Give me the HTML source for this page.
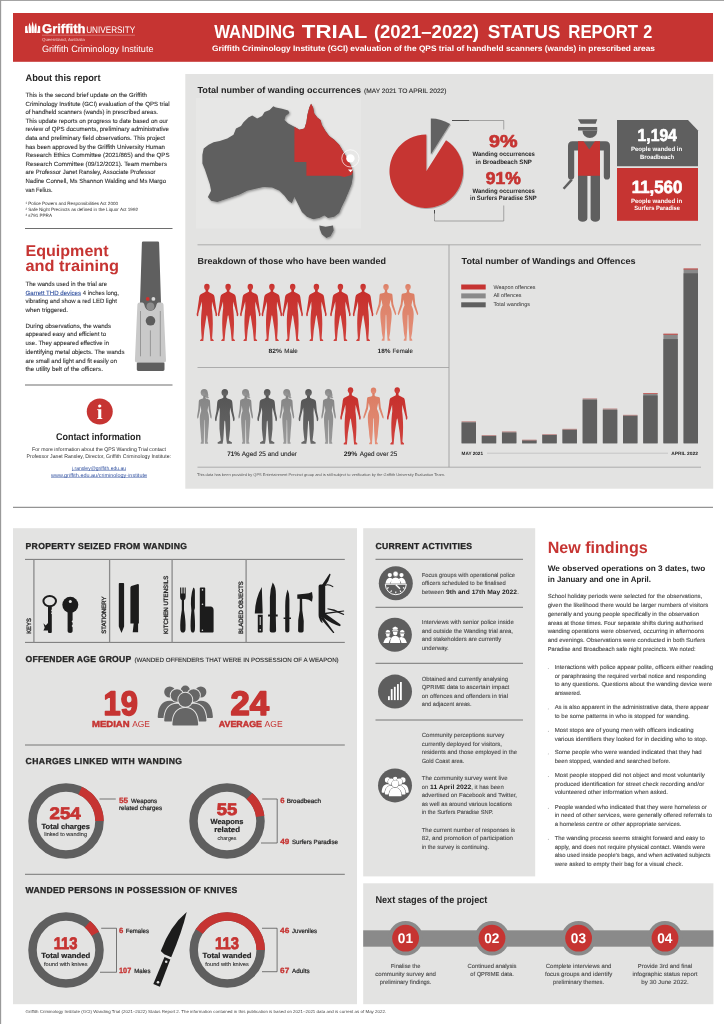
<!DOCTYPE html>
<html lang="en"><head><meta charset="utf-8"><title>Wanding Trial (2021–2022) Status Report 2</title>
<style>
html,body{margin:0;padding:0;background:#fff;}
body{width:724px;height:1024px;overflow:hidden;}
svg{display:block;font-family:"Liberation Sans",sans-serif;text-rendering:geometricPrecision;}
</style></head><body>
<svg width="724" height="1024" viewBox="0 0 724 1024" fill="#303030">
<defs>
<filter id="sh" x="-10%" y="-10%" width="125%" height="125%"><feDropShadow dx="1" dy="1.2" stdDeviation="1.1" flood-color="#000" flood-opacity="0.38"/></filter>
<filter id="sh2" x="-10%" y="-10%" width="125%" height="125%"><feDropShadow dx="0.8" dy="0.8" stdDeviation="0.7" flood-color="#000" flood-opacity="0.3"/></filter>
<linearGradient id="gm" x1="0" y1="0" x2="0" y2="1"><stop offset="0" stop-color="#c62f2c"/><stop offset="1" stop-color="#d0423d"/></linearGradient>
<linearGradient id="gf" x1="0" y1="0" x2="0" y2="1"><stop offset="0" stop-color="#db7d63"/><stop offset="1" stop-color="#e4907a"/></linearGradient>
<linearGradient id="gy" x1="0" y1="0" x2="0" y2="1"><stop offset="0" stop-color="#858585"/><stop offset="1" stop-color="#9a9a9a"/></linearGradient>
<linearGradient id="gd" x1="0" y1="0" x2="0" y2="1"><stop offset="0" stop-color="#555555"/><stop offset="1" stop-color="#696969"/></linearGradient>
</defs>
<rect x="0.00" y="0.00" width="724.00" height="0.90" fill="#9a9a9a" />
<rect x="0.00" y="0.00" width="1.15" height="1024.00" fill="#9a9a9a" />
<rect x="13.00" y="13.00" width="700.00" height="48.80" fill="#c63432" />
<g fill="#fff"><path d="M25.10,26.30 L27.20,25.70 L27.50,30.00 L28.30,32.90 L25.10,32.90Z"/><path d="M40.20,26.30 L38.10,25.70 L37.80,30.00 L37.00,32.90 L40.20,32.90Z"/><path d="M28.70,32.9 Q27.90,27 29.30,22.70 Q31.80,27 31.00,32.9Z"/><path d="M34.30,32.9 Q33.50,27 36.00,22.70 Q37.40,27 36.60,32.9Z"/><path d="M31.50,32.9 Q30.80,27 32.65,21.30 Q34.50,27 33.80,32.9Z"/></g>
<text x="42.00" y="33.00" font-size="12.6" font-weight="700" fill="#fff" textLength="43.50" lengthAdjust="spacingAndGlyphs" stroke="#fff" stroke-width="0.35">Griffith</text>
<text x="86.20" y="33.00" font-size="9.6" fill="#fff" textLength="49.00" lengthAdjust="spacingAndGlyphs">UNIVERSITY</text>
<line x1="42.00" y1="35.20" x2="135.00" y2="35.20" stroke="#e9a9a7" stroke-width="0.5" />
<text x="42.00" y="40.60" font-size="4.3" fill="#f3cfce" textLength="43.00" lengthAdjust="spacingAndGlyphs">Queensland, Australia</text>
<text x="42.00" y="51.60" font-size="9.2" fill="#fff" textLength="111.50" lengthAdjust="spacingAndGlyphs">Griffith Criminology Institute</text>
<text y="38.10" font-size="18.8" font-weight="700" fill="#fff"><tspan x="214.20" textLength="80.90" lengthAdjust="spacingAndGlyphs">WANDING</tspan> <tspan x="301.80" textLength="65.20" lengthAdjust="spacingAndGlyphs">TRIAL</tspan> <tspan x="373.90" textLength="105.10" lengthAdjust="spacingAndGlyphs">(2021–2022)</tspan> <tspan x="487.70" textLength="72.80" lengthAdjust="spacingAndGlyphs">STATUS</tspan> <tspan x="568.30" textLength="69.70" lengthAdjust="spacingAndGlyphs">REPORT</tspan> <tspan x="643.20" textLength="9.00" lengthAdjust="spacingAndGlyphs">2</tspan></text>
<text x="212.00" y="51.30" font-size="7.9" font-weight="700" fill="#fff" textLength="443.00" lengthAdjust="spacingAndGlyphs">Griffith Criminology Institute (GCI) evaluation of the QPS trial of handheld scanners (wands) in prescribed areas</text>
<text x="25.50" y="81.00" font-size="9.6" font-weight="700" fill="#262626" textLength="75.00" lengthAdjust="spacingAndGlyphs">About this report</text>
<text x="25.50" y="97.00" font-size="6.1" textLength="121.50" lengthAdjust="spacingAndGlyphs" stroke="#303030" stroke-width="0.1">This is the second brief update on the Griffith</text>
<text x="25.50" y="105.60" font-size="6.1" textLength="144.00" lengthAdjust="spacingAndGlyphs" stroke="#303030" stroke-width="0.1">Criminology Institute (GCI) evaluation of the QPS trial</text>
<text x="25.50" y="114.20" font-size="6.1" textLength="132.50" lengthAdjust="spacingAndGlyphs" stroke="#303030" stroke-width="0.1">of handheld scanners (wands) in prescribed areas.</text>
<text x="25.50" y="122.80" font-size="6.1" textLength="142.50" lengthAdjust="spacingAndGlyphs" stroke="#303030" stroke-width="0.1">This update reports on progress to date based on our</text>
<text x="25.50" y="131.40" font-size="6.1" textLength="143.50" lengthAdjust="spacingAndGlyphs" stroke="#303030" stroke-width="0.1">review of QPS documents, preliminary administrative</text>
<text x="25.50" y="140.00" font-size="6.1" textLength="139.50" lengthAdjust="spacingAndGlyphs" stroke="#303030" stroke-width="0.1">data and preliminary field observations. This project</text>
<text x="25.50" y="148.60" font-size="6.1" textLength="139.50" lengthAdjust="spacingAndGlyphs" stroke="#303030" stroke-width="0.1">has been approved by the Griffith University Human</text>
<text x="25.50" y="157.20" font-size="6.1" textLength="144.00" lengthAdjust="spacingAndGlyphs" stroke="#303030" stroke-width="0.1">Research Ethics Committee (2021/865) and the QPS</text>
<text x="25.50" y="165.80" font-size="6.1" textLength="141.50" lengthAdjust="spacingAndGlyphs" stroke="#303030" stroke-width="0.1">Research Committee (09/12/2021). Team members</text>
<text x="25.50" y="174.40" font-size="6.1" textLength="130.00" lengthAdjust="spacingAndGlyphs" stroke="#303030" stroke-width="0.1">are Professor Janet Ransley, Associate Professor</text>
<text x="25.50" y="183.00" font-size="6.1" textLength="140.50" lengthAdjust="spacingAndGlyphs" stroke="#303030" stroke-width="0.1">Nadine Connell, Ms Shannon Walding and Ms Margo</text>
<text x="25.50" y="191.60" font-size="6.1" textLength="27.00" lengthAdjust="spacingAndGlyphs" stroke="#303030" stroke-width="0.1">van Felius.</text>
<text x="25.50" y="204.50" font-size="4.6" textLength="92.50" lengthAdjust="spacingAndGlyphs">¹ Police Powers and Responsibilities Act 2000</text>
<text x="25.50" y="210.75" font-size="4.6" textLength="112.50" lengthAdjust="spacingAndGlyphs">² Safe Night Precincts as defined in the Liquor Act 1992</text>
<text x="25.50" y="217.00" font-size="4.6" textLength="26.50" lengthAdjust="spacingAndGlyphs">³ s791 PPRA</text>
<line x1="25.00" y1="228.50" x2="172.50" y2="228.50" stroke="#666666" stroke-width="0.95" />
<text x="25.50" y="255.50" font-size="15.6" font-weight="700" fill="#c63432" textLength="83.00" lengthAdjust="spacingAndGlyphs">Equipment</text>
<text x="25.50" y="270.50" font-size="15.6" font-weight="700" fill="#c63432" textLength="93.50" lengthAdjust="spacingAndGlyphs">and training</text>
<text x="25.50" y="285.50" font-size="6.1" textLength="81.50" lengthAdjust="spacingAndGlyphs" stroke="#303030" stroke-width="0.1">The wands used in the trial are</text>
<text x="25.50" y="303.00" font-size="6.1" textLength="91.50" lengthAdjust="spacingAndGlyphs" stroke="#303030" stroke-width="0.1">vibrating and show a red LED light</text>
<text x="25.50" y="311.75" font-size="6.1" textLength="42.50" lengthAdjust="spacingAndGlyphs" stroke="#303030" stroke-width="0.1">when triggered.</text>
<text x="25.50" y="327.50" font-size="6.1" textLength="85.50" lengthAdjust="spacingAndGlyphs" stroke="#303030" stroke-width="0.1">During observations, the wands</text>
<text x="25.50" y="336.00" font-size="6.1" textLength="80.50" lengthAdjust="spacingAndGlyphs" stroke="#303030" stroke-width="0.1">appeared easy and efficient to</text>
<text x="25.50" y="345.00" font-size="6.1" textLength="83.50" lengthAdjust="spacingAndGlyphs" stroke="#303030" stroke-width="0.1">use. They appeared effective in</text>
<text x="25.50" y="353.75" font-size="6.1" textLength="99.00" lengthAdjust="spacingAndGlyphs" stroke="#303030" stroke-width="0.1">identifying metal objects. The wands</text>
<text x="25.50" y="362.50" font-size="6.1" textLength="91.50" lengthAdjust="spacingAndGlyphs" stroke="#303030" stroke-width="0.1">are small and light and fit easily on</text>
<text x="25.50" y="371.00" font-size="6.1" textLength="77.50" lengthAdjust="spacingAndGlyphs" stroke="#303030" stroke-width="0.1">the utility belt of the officers.</text>
<text x="25.50" y="294.50" font-size="6.1" fill="#2f4f9f" textLength="55.50" lengthAdjust="spacingAndGlyphs" stroke="#2f4f9f" stroke-width="0.1">Garrett THD devices</text>
<line x1="25.50" y1="295.50" x2="81.00" y2="295.50" stroke="#2f4f9f" stroke-width="0.45" />
<text x="82.80" y="294.50" font-size="6.1" textLength="36.20" lengthAdjust="spacingAndGlyphs" stroke="#303030" stroke-width="0.1">4 inches long,</text>
<path d="M143.2,241.4 h14.6 q1.3,0 1.3,1.3 L161,302.6 q0,0.6 -0.6,0.6 h-19.8 q-0.6,0 -0.6,-0.6 L141.9,242.7 q0,-1.3 1.3,-1.3z" fill="#5f5f5f" />
<path d="M142,300 h17 v3 a8.5,8.2 0 0 1 -17,0z" fill="#5f5f5f" />
<path d="M139.6,302.4 h2.6 q1.6,0 2,1.8 q1.2,6.6 6.2,6.6 q5,0 6.2,-6.6 q0.4,-1.8 2,-1.8 h2.6 q2,0 2.3,2 L166,360.6 q0.1,2 -2,2 h-27.2 q-2,0 -1.9,-2 L137.4,304.4 q0.2,-2 2.2,-2z" fill="#c9c9c9" />
<path d="M137.8,362.6 h25.7 q1,0 1,1 v6 q0,1.4 -1.4,1.4 h-24.9 q-1.400,0 -1.400,-1.400 v-6 q0,-1 1,-1z" fill="#5f5f5f" />
<circle cx="147.70" cy="298.90" r="1.90" fill="#d2302d" />
<circle cx="153.40" cy="298.90" r="1.90" fill="#d9d9d9" />
<circle cx="150.40" cy="306.50" r="3.90" fill="#8c8c8c" />
<circle cx="150.50" cy="320.80" r="4.80" fill="#5c5c5c" />
<line x1="140.50" y1="311.00" x2="140.50" y2="356.30" stroke="#8a8a8a" stroke-width="0.8" />
<line x1="160.30" y1="311.00" x2="160.30" y2="356.30" stroke="#8a8a8a" stroke-width="0.8" />
<line x1="150.40" y1="330.40" x2="150.40" y2="356.30" stroke="#8a8a8a" stroke-width="0.8" />
<line x1="25.00" y1="385.00" x2="172.50" y2="385.00" stroke="#666666" stroke-width="0.95" />
<circle cx="99.75" cy="411.50" r="13.00" fill="#c63432" />
<text x="99.75" y="419.2" font-size="21" font-weight="700" fill="#fff" text-anchor="middle" font-family="'Liberation Serif',serif">i</text>
<text x="56.00" y="440.00" font-size="9.8" font-weight="700" fill="#262626" textLength="85.00" lengthAdjust="spacingAndGlyphs">Contact information</text>
<text x="32.00" y="451.20" font-size="5.3" textLength="134.00" lengthAdjust="spacingAndGlyphs">For more information about the QPS Wanding Trial contact</text>
<text x="26.50" y="458.10" font-size="5.3" textLength="144.50" lengthAdjust="spacingAndGlyphs">Professor Janet Ransley, Director, Griffith Criminology Institute:</text>
<text x="72.00" y="469.60" font-size="5.3" fill="#2f4f9f" textLength="54.00" lengthAdjust="spacingAndGlyphs">j.ransley@griffith.edu.au</text>
<line x1="72.00" y1="470.50" x2="126.00" y2="470.50" stroke="#2f4f9f" stroke-width="0.45" />
<text x="51.00" y="476.60" font-size="5.3" fill="#2f4f9f" textLength="96.00" lengthAdjust="spacingAndGlyphs">www.griffith.edu.au/criminology-institute</text>
<line x1="51.00" y1="477.50" x2="147.00" y2="477.50" stroke="#2f4f9f" stroke-width="0.45" />
<rect x="185.30" y="74.00" width="527.90" height="414.70" fill="#e3e3e2" />
<text x="197.50" y="93.00" font-size="8.9" font-weight="700" fill="#262626" textLength="163.50" lengthAdjust="spacingAndGlyphs">Total number of wanding occurrences</text>
<text x="364.00" y="93.20" font-size="6.5" fill="#262626" textLength="82.50" lengthAdjust="spacingAndGlyphs" stroke="#262626" stroke-width="0.1">(MAY 2021 TO APRIL 2022)</text>
<rect x="196.00" y="97.80" width="165.00" height="130.70" fill="#e7e7e6" />
<g filter="url(#sh)">
<path d="M202.4,154.7 L203.7,148.5 L208.6,144.7 L213.6,142.2 L219.8,141.0 L227.3,138.5 L233.5,134.8 L236.0,128.6 L241.0,126.1 L243.5,122.3 L248.4,117.4 L252.2,115.4 L257.1,118.6 L262.1,116.1 L264.6,111.9 L269.6,109.9 L273.3,106.2 L275.8,107.4 L282.0,108.7 L288.2,110.4 L289.5,112.9 L285.7,116.1 L284.5,119.9 L288.2,123.6 L294.4,126.8 L299.4,129.8 L304.4,128.6 L306.4,122.3 L307.4,114.9 L309.3,107.4 L311.1,103.7 L313.1,107.4 L314.3,113.6 L317.3,117.4 L320.5,119.9 L321.8,124.8 L325.5,131.1 L329.2,136.0 L334.2,139.8 L339.2,144.7 L342.9,150.9 L347.9,159.6 L351.6,167.1 L352.9,172.1 L352.9,177.0 L351.6,184.5 L349.1,190.7 L345.4,199.4 L341.7,206.9 L339.2,213.1 L334.2,216.8 L328.0,218.1 L324.3,215.6 L319.3,218.1 L313.1,219.3 L306.9,216.8 L301.9,211.9 L299.4,206.9 L296.9,201.9 L294.4,196.9 L291.9,203.2 L288.2,200.7 L284.5,195.7 L279.5,190.7 L272.0,187.5 L263.3,187.0 L254.6,189.0 L247.2,190.7 L239.7,194.5 L232.3,196.9 L224.8,199.4 L217.3,201.9 L211.1,200.7 L207.9,196.9 L211.1,190.7 L209.9,184.5 L207.4,177.0 L204.9,169.6 L202.4,163.4Z" fill="#5e5e5e" />
<path d="M319.3,225.5 L325.5,226.8 L333.0,225.5 L333.7,230.5 L330.5,236.2 L326.3,238.0 L321.8,234.2 L319.8,229.3Z" fill="#5e5e5e" />
</g>
<path d="M294.4,126.8 L299.4,129.8 L304.4,128.6 L306.4,122.3 L307.4,114.9 L309.3,107.4 L311.1,103.7 L313.1,107.4 L314.3,113.6 L317.3,117.4 L320.5,119.9 L321.8,124.8 L325.5,131.1 L329.2,136.0 L334.2,139.8 L339.2,144.7 L342.9,150.9 L347.9,159.6 L351.6,167.1 L352.9,172.1 L351.6,175.1 L344.2,177.0 L339.2,175.8 L306.4,175.8 L306.4,162.1 L294.4,162.1Z" fill="#c63432" />
<circle cx="350.40" cy="158.40" r="8.60" fill="none" stroke="#fff" stroke-width="0.7"/>
<circle cx="350.40" cy="158.40" r="4.20" fill="#fff" />
<path d="M348,169.600 h5 l-2.5,2.6z" fill="#fff" />
<line x1="197.50" y1="244.80" x2="701.00" y2="244.80" stroke="#9e9e9e" stroke-width="0.8" />
<g filter="url(#sh2)">
<path d="M426.3,171.2 L446.02,140.13 A36.8,36.8 0 1 1 426.30,134.40 Z" fill="#c63432" />
<path d="M430.8,154.5 L430.80,118.50 A36,36 0 0 1 450.09,124.10 Z" fill="#626262" />
</g>
<path d="M452,120.5 H503.75 V129.5" fill="none" stroke="#777" stroke-width="0.6"/>
<line x1="452.00" y1="120.50" x2="469.00" y2="120.50" stroke="#444" stroke-width="0.9" />
<path d="M434.5,210 V221 H503.75 V205.5" fill="none" stroke="#777" stroke-width="0.6"/>
<line x1="434.50" y1="210.00" x2="434.50" y2="213.50" stroke="#333" stroke-width="0.8" />
<text x="503.30" y="147.25" font-size="17.2" font-weight="700" fill="#c63432" text-anchor="middle" textLength="28.50" lengthAdjust="spacingAndGlyphs" stroke="#c63432" stroke-width="0.7" stroke-linejoin="round">9%</text>
<text x="503.70" y="156.00" font-size="6.3" font-weight="700" fill="#262626" text-anchor="middle" textLength="62.50" lengthAdjust="spacingAndGlyphs">Wanding occurrences</text>
<text x="503.70" y="163.60" font-size="6.3" font-weight="700" fill="#262626" text-anchor="middle" textLength="56.20" lengthAdjust="spacingAndGlyphs">in Broadbeach SNP</text>
<text x="503.30" y="183.50" font-size="17.2" font-weight="700" fill="#c63432" text-anchor="middle" textLength="35.00" lengthAdjust="spacingAndGlyphs" stroke="#c63432" stroke-width="0.7" stroke-linejoin="round">91%</text>
<text x="503.70" y="192.50" font-size="6.3" font-weight="700" fill="#262626" text-anchor="middle" textLength="62.50" lengthAdjust="spacingAndGlyphs">Wanding occurrences</text>
<text x="503.30" y="200.00" font-size="6.3" font-weight="700" fill="#262626" text-anchor="middle" textLength="66.50" lengthAdjust="spacingAndGlyphs">in Surfers Paradise SNP</text>
<path d="M578,119.25 h19.25 l-1.6,4.5 h-15z" fill="#5f5f5f" />
<path d="M578,127 h19.2 v3.5 h-19.2z" fill="#5f5f5f" />
<path d="M582.5,130.4 h14.7 v0.6 a7.35,7 0 0 1 -14.7,0z" fill="#5f5f5f" />
<path d="M572.5,141.2 h33 q4.5,0 4.5,4.500 v30.700 a3.1,3.1 0 0 1 -6.200,0 v-26 h-3.800 v67.800 a4.700,3.600 0 0 1 -9.400,0 v-42.500 h-3.200 v42.500 a4.700,3.600 0 0 1 -9.400,0 v-67.800 h-3.800 v26 a3.100,3.100 0 0 1 -6.200,0 v-30.700 q0,-4.500 4.500,-4.500z" fill="#5f5f5f" />
<path d="M578,141.2 h5.5 l5.750,8.300 l5.750,-8.300 h5 v34.600 h-22z" fill="#c63432" />
<line x1="571.8" y1="179.6" x2="563.6" y2="188.8" stroke="#5f5f5f" stroke-width="2.4" stroke-linecap="butt"/>
<path d="M617,120 h71 l10,10.500 v35.800 h-81z" fill="#5f5f5f" />
<rect x="617.00" y="168.00" width="81.00" height="52.80" fill="#c63432" />
<text x="657.20" y="140.75" font-size="17.2" font-weight="700" fill="#fff" text-anchor="middle" textLength="39.30" lengthAdjust="spacingAndGlyphs" stroke="#fff" stroke-width="0.7" stroke-linejoin="round">1,194</text>
<text x="656.60" y="151.25" font-size="6.2" font-weight="700" fill="#fff" text-anchor="middle" textLength="51.30" lengthAdjust="spacingAndGlyphs">People wanded in</text>
<text x="657.10" y="159.25" font-size="6.2" font-weight="700" fill="#fff" text-anchor="middle" textLength="34.30" lengthAdjust="spacingAndGlyphs">Broadbeach</text>
<text x="657.00" y="193.00" font-size="17.6" font-weight="700" fill="#fff" text-anchor="middle" textLength="50.50" lengthAdjust="spacingAndGlyphs" stroke="#fff" stroke-width="0.7" stroke-linejoin="round">11,560</text>
<text x="656.60" y="202.50" font-size="6.2" font-weight="700" fill="#fff" text-anchor="middle" textLength="51.30" lengthAdjust="spacingAndGlyphs">People wanded in</text>
<text x="657.10" y="210.25" font-size="6.2" font-weight="700" fill="#fff" text-anchor="middle" textLength="45.80" lengthAdjust="spacingAndGlyphs">Surfers Paradise</text>
<text x="197.50" y="264.00" font-size="8.9" font-weight="700" fill="#262626" textLength="188.50" lengthAdjust="spacingAndGlyphs">Breakdown of those who have been wanded</text>
<line x1="449.00" y1="244.80" x2="449.00" y2="467.20" stroke="#9e9e9e" stroke-width="0.9" />
<line x1="197.50" y1="367.50" x2="449.00" y2="367.50" stroke="#9e9e9e" stroke-width="0.8" />
<line x1="197.50" y1="467.20" x2="701.00" y2="467.20" stroke="#9e9e9e" stroke-width="0.8" />
<g transform="translate(206.9,283.9)" fill="url(#gm)"><ellipse cx="0" cy="3" rx="2.75" ry="3.1"/><path d="M-1.25,5.300 L-1.35,7.900 C-3,9.100 -5.600,9.700 -6.700,10.800 C-7.500,11.600 -7.700,13 -7.900,15 L-9.800,28.300 C-10.400,29.800 -10.400,31.200 -9.700,32.400 L-8.700,32 L-8.500,29.600 L-5.100,17.500 L-4.900,24 C-5.500,28 -5.900,34 -5.900,40 L-5.700,47 L-5.200,54.500 L-6.900,56.300 L-6.700,57.200 L-3.600,57.200 L-3.400,55 L-2.600,46 L-0.500,32.500 L0,31 L0.500,32.500 L2.600,46 L3.400,55 L3.600,57.200 L6.700,57.200 L6.900,56.300 L5.200,54.500 L5.700,47 L5.900,40 C5.900,34 5.500,28 4.900,24 L5.100,17.500 L8.500,29.600 L8.700,32 L9.700,32.400 C10.400,31.200 10.400,29.800 9.800,28.300 L7.900,15 C7.700,13 7.500,11.600 6.700,10.800 C5.600,9.700 3,9.100 1.350,7.900 L1.250,5.300 Z"/></g>
<g transform="translate(228.1,283.9)" fill="url(#gm)"><ellipse cx="0" cy="3" rx="2.75" ry="3.1"/><path d="M-1.25,5.300 L-1.35,7.900 C-3,9.100 -5.600,9.700 -6.700,10.800 C-7.500,11.600 -7.700,13 -7.900,15 L-9.800,28.300 C-10.400,29.800 -10.400,31.200 -9.700,32.400 L-8.700,32 L-8.500,29.600 L-5.100,17.500 L-4.900,24 C-5.500,28 -5.900,34 -5.900,40 L-5.700,47 L-5.200,54.500 L-6.900,56.300 L-6.700,57.200 L-3.600,57.200 L-3.400,55 L-2.600,46 L-0.500,32.500 L0,31 L0.500,32.500 L2.600,46 L3.400,55 L3.600,57.200 L6.700,57.200 L6.900,56.300 L5.200,54.500 L5.700,47 L5.900,40 C5.900,34 5.500,28 4.900,24 L5.100,17.500 L8.500,29.600 L8.700,32 L9.700,32.400 C10.400,31.200 10.400,29.800 9.800,28.300 L7.900,15 C7.700,13 7.500,11.600 6.700,10.800 C5.600,9.700 3,9.100 1.350,7.900 L1.250,5.300 Z"/></g>
<g transform="translate(250.3,283.9)" fill="url(#gm)"><ellipse cx="0" cy="3" rx="2.75" ry="3.1"/><path d="M-1.25,5.300 L-1.35,7.900 C-3,9.100 -5.600,9.700 -6.700,10.800 C-7.500,11.600 -7.700,13 -7.900,15 L-9.800,28.300 C-10.400,29.800 -10.400,31.200 -9.700,32.400 L-8.700,32 L-8.500,29.600 L-5.100,17.500 L-4.900,24 C-5.500,28 -5.900,34 -5.900,40 L-5.700,47 L-5.200,54.500 L-6.900,56.300 L-6.700,57.200 L-3.600,57.200 L-3.400,55 L-2.600,46 L-0.500,32.500 L0,31 L0.500,32.500 L2.600,46 L3.400,55 L3.600,57.200 L6.700,57.200 L6.900,56.300 L5.200,54.500 L5.700,47 L5.900,40 C5.900,34 5.500,28 4.900,24 L5.100,17.500 L8.500,29.600 L8.700,32 L9.700,32.400 C10.400,31.200 10.400,29.800 9.800,28.300 L7.900,15 C7.700,13 7.500,11.600 6.700,10.800 C5.600,9.700 3,9.100 1.350,7.900 L1.250,5.300 Z"/></g>
<g transform="translate(271.9,283.9)" fill="url(#gm)"><ellipse cx="0" cy="3" rx="2.75" ry="3.1"/><path d="M-1.25,5.300 L-1.35,7.900 C-3,9.100 -5.600,9.700 -6.700,10.800 C-7.500,11.600 -7.700,13 -7.900,15 L-9.800,28.300 C-10.400,29.800 -10.400,31.200 -9.700,32.400 L-8.700,32 L-8.500,29.600 L-5.100,17.500 L-4.900,24 C-5.500,28 -5.900,34 -5.900,40 L-5.700,47 L-5.200,54.500 L-6.900,56.300 L-6.700,57.200 L-3.600,57.200 L-3.400,55 L-2.600,46 L-0.500,32.500 L0,31 L0.500,32.500 L2.600,46 L3.400,55 L3.600,57.200 L6.700,57.200 L6.900,56.300 L5.200,54.500 L5.700,47 L5.900,40 C5.900,34 5.500,28 4.900,24 L5.100,17.500 L8.500,29.600 L8.700,32 L9.700,32.400 C10.400,31.200 10.400,29.800 9.800,28.300 L7.900,15 C7.700,13 7.500,11.600 6.700,10.800 C5.600,9.700 3,9.100 1.350,7.900 L1.250,5.300 Z"/></g>
<g transform="translate(292.7,283.9)" fill="url(#gm)"><ellipse cx="0" cy="3" rx="2.75" ry="3.1"/><path d="M-1.25,5.300 L-1.35,7.900 C-3,9.100 -5.600,9.700 -6.700,10.800 C-7.500,11.600 -7.700,13 -7.900,15 L-9.800,28.300 C-10.400,29.800 -10.400,31.200 -9.700,32.400 L-8.700,32 L-8.500,29.600 L-5.100,17.500 L-4.900,24 C-5.500,28 -5.900,34 -5.900,40 L-5.700,47 L-5.200,54.500 L-6.900,56.300 L-6.700,57.200 L-3.600,57.200 L-3.400,55 L-2.600,46 L-0.500,32.500 L0,31 L0.500,32.500 L2.600,46 L3.400,55 L3.600,57.200 L6.700,57.200 L6.900,56.300 L5.200,54.500 L5.700,47 L5.900,40 C5.900,34 5.500,28 4.900,24 L5.100,17.500 L8.500,29.600 L8.700,32 L9.700,32.400 C10.400,31.200 10.400,29.800 9.800,28.300 L7.900,15 C7.700,13 7.500,11.600 6.700,10.800 C5.600,9.700 3,9.100 1.350,7.900 L1.250,5.300 Z"/></g>
<g transform="translate(316.4,283.9)" fill="url(#gm)"><ellipse cx="0" cy="3" rx="2.75" ry="3.1"/><path d="M-1.25,5.300 L-1.35,7.900 C-3,9.100 -5.600,9.700 -6.700,10.800 C-7.500,11.600 -7.700,13 -7.900,15 L-9.800,28.300 C-10.400,29.800 -10.400,31.200 -9.700,32.400 L-8.700,32 L-8.500,29.600 L-5.100,17.500 L-4.900,24 C-5.500,28 -5.900,34 -5.900,40 L-5.700,47 L-5.200,54.500 L-6.900,56.300 L-6.700,57.200 L-3.600,57.200 L-3.400,55 L-2.600,46 L-0.500,32.500 L0,31 L0.500,32.500 L2.600,46 L3.400,55 L3.600,57.200 L6.700,57.200 L6.900,56.300 L5.200,54.500 L5.700,47 L5.900,40 C5.900,34 5.500,28 4.900,24 L5.100,17.500 L8.500,29.600 L8.700,32 L9.700,32.400 C10.400,31.200 10.400,29.800 9.800,28.300 L7.900,15 C7.700,13 7.500,11.600 6.700,10.800 C5.600,9.700 3,9.100 1.350,7.900 L1.250,5.300 Z"/></g>
<g transform="translate(340.4,283.9)" fill="url(#gm)"><ellipse cx="0" cy="3" rx="2.75" ry="3.1"/><path d="M-1.25,5.300 L-1.35,7.900 C-3,9.100 -5.600,9.700 -6.700,10.800 C-7.500,11.600 -7.700,13 -7.900,15 L-9.800,28.300 C-10.400,29.800 -10.400,31.200 -9.700,32.400 L-8.700,32 L-8.500,29.600 L-5.100,17.500 L-4.900,24 C-5.500,28 -5.900,34 -5.900,40 L-5.700,47 L-5.200,54.500 L-6.900,56.300 L-6.700,57.200 L-3.600,57.200 L-3.400,55 L-2.600,46 L-0.500,32.500 L0,31 L0.500,32.500 L2.600,46 L3.400,55 L3.600,57.200 L6.700,57.200 L6.900,56.300 L5.200,54.500 L5.700,47 L5.900,40 C5.900,34 5.500,28 4.900,24 L5.100,17.500 L8.500,29.600 L8.700,32 L9.700,32.400 C10.400,31.200 10.400,29.800 9.800,28.300 L7.900,15 C7.700,13 7.500,11.600 6.700,10.800 C5.600,9.700 3,9.100 1.350,7.900 L1.250,5.300 Z"/></g>
<g transform="translate(363.1,283.9)" fill="url(#gm)"><ellipse cx="0" cy="3" rx="2.75" ry="3.1"/><path d="M-1.25,5.300 L-1.35,7.900 C-3,9.100 -5.600,9.700 -6.700,10.800 C-7.500,11.600 -7.700,13 -7.900,15 L-9.800,28.300 C-10.400,29.800 -10.400,31.200 -9.700,32.400 L-8.700,32 L-8.500,29.600 L-5.100,17.500 L-4.900,24 C-5.500,28 -5.900,34 -5.900,40 L-5.700,47 L-5.200,54.500 L-6.900,56.300 L-6.700,57.200 L-3.600,57.200 L-3.400,55 L-2.600,46 L-0.500,32.500 L0,31 L0.500,32.500 L2.600,46 L3.400,55 L3.600,57.200 L6.700,57.200 L6.900,56.300 L5.200,54.500 L5.700,47 L5.900,40 C5.900,34 5.500,28 4.900,24 L5.100,17.500 L8.500,29.600 L8.700,32 L9.700,32.400 C10.400,31.200 10.400,29.800 9.800,28.300 L7.900,15 C7.700,13 7.500,11.600 6.700,10.800 C5.600,9.700 3,9.100 1.350,7.900 L1.250,5.300 Z"/></g>
<g transform="translate(386.0,284.0)" fill="url(#gf)"><ellipse cx="0" cy="3.1" rx="2.75" ry="3.1"/><path d="M-1.1,5.300 L-1.2,8.200 C-2.500,9.300 -4.800,9.300 -5.800,9.700 C-6.500,10.200 -6.500,11.500 -6.600,13 L-7.300,20 L-10.200,29.400 L-9.900,31.200 L-9,30.400 L-5.600,21.500 L-4.700,15.500 C-4.200,18 -3.500,20 -3.500,21.500 C-4.800,24 -5.700,27 -5.700,30 C-5.700,35 -4.900,40 -4.500,44 C-4.400,48 -3.700,51 -3.100,54 L-4.400,56 L-4.200,56.700 L-1.500,56.700 L-1.400,54 L-0.700,44 L-0.300,31.500 L0,30.500 L0.300,31.500 L0.700,44 L1.400,54 L1.500,56.700 L4.200,56.700 L4.400,56 L3.100,54 C3.700,51 4.400,48 4.500,44 C4.900,40 5.700,35 5.700,30 C5.700,27 4.800,24 3.500,21.500 C3.500,20 4.200,18 4.700,15.500 L5.600,21.500 L9,30.400 L9.900,31.200 L10.200,29.400 L7.300,20 L6.600,13 C6.500,11.500 6.500,10.200 5.800,9.700 C4.800,9.300 2.500,9.300 1.200,8.200 L1.100,5.300 Z"/></g>
<g transform="translate(408.0,284.0)" fill="url(#gf)"><ellipse cx="0" cy="3.1" rx="2.75" ry="3.1"/><path d="M-1.1,5.300 L-1.2,8.200 C-2.500,9.300 -4.800,9.300 -5.800,9.700 C-6.500,10.200 -6.500,11.500 -6.600,13 L-7.300,20 L-10.200,29.400 L-9.900,31.200 L-9,30.400 L-5.600,21.500 L-4.700,15.500 C-4.200,18 -3.500,20 -3.500,21.500 C-4.800,24 -5.700,27 -5.700,30 C-5.700,35 -4.900,40 -4.500,44 C-4.400,48 -3.700,51 -3.100,54 L-4.400,56 L-4.200,56.700 L-1.500,56.700 L-1.400,54 L-0.700,44 L-0.300,31.500 L0,30.500 L0.300,31.500 L0.700,44 L1.400,54 L1.500,56.700 L4.200,56.700 L4.400,56 L3.100,54 C3.700,51 4.400,48 4.500,44 C4.900,40 5.700,35 5.700,30 C5.700,27 4.800,24 3.500,21.500 C3.500,20 4.200,18 4.700,15.500 L5.600,21.500 L9,30.400 L9.900,31.200 L10.200,29.400 L7.300,20 L6.600,13 C6.500,11.500 6.500,10.200 5.800,9.700 C4.800,9.300 2.500,9.300 1.200,8.200 L1.100,5.300 Z"/></g>
<text x="268.60" y="353.10" font-size="6.2" font-weight="700" fill="#262626" textLength="13.40" lengthAdjust="spacingAndGlyphs">82%</text>
<text x="284.30" y="353.10" font-size="6.2" fill="#262626" textLength="13.40" lengthAdjust="spacingAndGlyphs" stroke="#262626" stroke-width="0.1">Male</text>
<text x="377.60" y="353.10" font-size="6.2" font-weight="700" fill="#262626" textLength="12.90" lengthAdjust="spacingAndGlyphs">18%</text>
<text x="392.60" y="353.10" font-size="6.2" fill="#262626" textLength="20.20" lengthAdjust="spacingAndGlyphs" stroke="#262626" stroke-width="0.1">Female</text>
<g transform="translate(204.4,389.0)" fill="url(#gy)"><ellipse cx="-0.2" cy="3.600" rx="3.500" ry="3.700"/><path d="M1,2 q3.500,1 2.800,6 l1,0.800 l-1.500,0.700 l-2.800,-1.500z"/><path d="M-1.1,6.500 L-1.2,9.200 C-2.500,10 -4.300,10.200 -5,10.700 C-5.600,11.200 -5.600,12.500 -5.700,14 L-6.100,20 L-7.300,27.500 L-7,29.700 L-6.100,29 L-4.500,21.500 L-3.900,16.500 C-3.600,19 -3.200,20.500 -3.200,22 C-4.200,24.500 -4.600,27 -4.600,30 C-4.600,35 -4,40 -3.700,44 C-3.600,47 -3.300,50 -3,52.500 L-3.800,54 L-3.600,54.700 L-0.600,54.700 L-0.500,52 L-0.400,44 L-0.200,31.500 L0,30.500 L0.200,31.500 L0.400,44 L0.500,52 L0.600,54.700 L3.600,54.700 L3.800,54 L3,52.500 C3.300,50 3.600,47 3.700,44 C4,40 4.600,35 4.600,30 C4.600,27 4.200,24.500 3.200,22 C3.200,20.500 3.600,19 3.900,16.500 L4.500,21.500 L6.100,29 L7,29.700 L7.300,27.500 L6.100,20 L5.700,14 C5.600,12.500 5.600,11.200 5,10.700 C4.300,10.200 2.500,10 1.200,9.200 L1.100,6.500 Z"/></g>
<g transform="translate(224.8,389.0)" fill="url(#gd)"><ellipse cx="0" cy="3.500" rx="3.300" ry="3.600"/><path d="M-1.4,6.200 L-1.500,8.700 C-3,9.700 -5.800,10.200 -6.800,11.200 C-7.500,12 -7.600,13.500 -7.700,15 L-8.300,22 L-9.700,28.500 C-10,30 -9.800,31.400 -9.200,32.200 L-8.300,31.800 L-8,29 L-5.300,18.500 L-5,24 C-5.300,28 -5.400,34 -5.300,40 L-4.600,47 L-4,51.500 L-7.300,53.500 L-7,54.700 L-2.200,54.700 L-1.600,51 L-1.200,46 L-0.400,32.500 L0,31.500 L0.400,32.500 L1.200,46 L1.600,51 L2.200,54.700 L7,54.700 L7.300,53.500 L4,51.500 L4.600,47 L5.300,40 C5.400,34 5.300,28 5,24 L5.300,18.500 L8,29 L8.300,31.800 L9.200,32.200 C9.800,31.400 10,30 9.700,28.500 L8.300,22 L7.700,15 C7.600,13.500 7.500,12 6.800,11.200 C5.800,10.200 3,9.700 1.500,8.700 L1.400,6.200 Z"/></g>
<g transform="translate(245.7,389.0)" fill="url(#gy)"><ellipse cx="-0.2" cy="3.600" rx="3.500" ry="3.700"/><path d="M1,2 q3.500,1 2.800,6 l1,0.800 l-1.500,0.700 l-2.800,-1.500z"/><path d="M-1.1,6.500 L-1.2,9.200 C-2.500,10 -4.300,10.200 -5,10.700 C-5.600,11.200 -5.600,12.500 -5.700,14 L-6.100,20 L-7.300,27.500 L-7,29.700 L-6.100,29 L-4.500,21.500 L-3.900,16.500 C-3.600,19 -3.200,20.500 -3.200,22 C-4.200,24.500 -4.600,27 -4.600,30 C-4.600,35 -4,40 -3.700,44 C-3.600,47 -3.300,50 -3,52.500 L-3.800,54 L-3.600,54.700 L-0.600,54.700 L-0.500,52 L-0.400,44 L-0.200,31.500 L0,30.500 L0.200,31.500 L0.400,44 L0.500,52 L0.600,54.700 L3.600,54.700 L3.800,54 L3,52.500 C3.300,50 3.600,47 3.700,44 C4,40 4.600,35 4.600,30 C4.600,27 4.200,24.500 3.200,22 C3.200,20.500 3.600,19 3.900,16.500 L4.500,21.500 L6.100,29 L7,29.700 L7.300,27.500 L6.100,20 L5.700,14 C5.600,12.500 5.600,11.200 5,10.700 C4.300,10.200 2.500,10 1.200,9.200 L1.100,6.500 Z"/></g>
<g transform="translate(267.2,389.0)" fill="url(#gd)"><ellipse cx="0" cy="3.500" rx="3.300" ry="3.600"/><path d="M-1.4,6.200 L-1.500,8.700 C-3,9.700 -5.800,10.200 -6.800,11.200 C-7.500,12 -7.600,13.500 -7.700,15 L-8.300,22 L-9.700,28.500 C-10,30 -9.800,31.400 -9.200,32.200 L-8.300,31.800 L-8,29 L-5.300,18.500 L-5,24 C-5.300,28 -5.400,34 -5.300,40 L-4.600,47 L-4,51.500 L-7.300,53.500 L-7,54.700 L-2.200,54.700 L-1.600,51 L-1.200,46 L-0.400,32.500 L0,31.500 L0.400,32.500 L1.200,46 L1.600,51 L2.200,54.700 L7,54.700 L7.300,53.500 L4,51.500 L4.600,47 L5.300,40 C5.400,34 5.300,28 5,24 L5.300,18.500 L8,29 L8.300,31.800 L9.200,32.200 C9.800,31.400 10,30 9.700,28.500 L8.300,22 L7.700,15 C7.600,13.500 7.500,12 6.800,11.200 C5.800,10.200 3,9.700 1.500,8.700 L1.400,6.200 Z"/></g>
<g transform="translate(286.9,389.0)" fill="url(#gy)"><ellipse cx="-0.2" cy="3.600" rx="3.500" ry="3.700"/><path d="M1,2 q3.500,1 2.800,6 l1,0.800 l-1.500,0.700 l-2.800,-1.500z"/><path d="M-1.1,6.500 L-1.2,9.200 C-2.500,10 -4.300,10.200 -5,10.700 C-5.600,11.200 -5.600,12.500 -5.700,14 L-6.100,20 L-7.300,27.500 L-7,29.700 L-6.100,29 L-4.500,21.500 L-3.900,16.500 C-3.600,19 -3.200,20.500 -3.200,22 C-4.200,24.500 -4.600,27 -4.600,30 C-4.600,35 -4,40 -3.700,44 C-3.600,47 -3.300,50 -3,52.500 L-3.800,54 L-3.600,54.700 L-0.600,54.700 L-0.500,52 L-0.400,44 L-0.200,31.500 L0,30.500 L0.200,31.500 L0.400,44 L0.500,52 L0.600,54.700 L3.600,54.700 L3.800,54 L3,52.500 C3.300,50 3.600,47 3.700,44 C4,40 4.600,35 4.600,30 C4.600,27 4.200,24.500 3.200,22 C3.200,20.500 3.600,19 3.900,16.500 L4.500,21.500 L6.100,29 L7,29.700 L7.300,27.500 L6.100,20 L5.700,14 C5.600,12.500 5.600,11.200 5,10.700 C4.300,10.200 2.500,10 1.200,9.200 L1.100,6.500 Z"/></g>
<g transform="translate(308.5,389.0)" fill="url(#gd)"><ellipse cx="0" cy="3.500" rx="3.300" ry="3.600"/><path d="M-1.4,6.200 L-1.500,8.700 C-3,9.700 -5.800,10.200 -6.800,11.200 C-7.500,12 -7.600,13.500 -7.700,15 L-8.300,22 L-9.700,28.500 C-10,30 -9.800,31.400 -9.200,32.200 L-8.300,31.800 L-8,29 L-5.300,18.500 L-5,24 C-5.300,28 -5.400,34 -5.300,40 L-4.600,47 L-4,51.500 L-7.300,53.500 L-7,54.700 L-2.200,54.700 L-1.600,51 L-1.200,46 L-0.400,32.500 L0,31.500 L0.400,32.500 L1.200,46 L1.600,51 L2.200,54.700 L7,54.700 L7.300,53.500 L4,51.500 L4.600,47 L5.300,40 C5.400,34 5.300,28 5,24 L5.300,18.500 L8,29 L8.300,31.800 L9.200,32.200 C9.800,31.400 10,30 9.700,28.500 L8.300,22 L7.700,15 C7.600,13.500 7.500,12 6.800,11.200 C5.800,10.200 3,9.700 1.500,8.700 L1.400,6.200 Z"/></g>
<g transform="translate(328.6,389.0)" fill="url(#gy)"><ellipse cx="-0.2" cy="3.600" rx="3.500" ry="3.700"/><path d="M1,2 q3.500,1 2.800,6 l1,0.800 l-1.500,0.700 l-2.800,-1.500z"/><path d="M-1.1,6.500 L-1.2,9.200 C-2.500,10 -4.300,10.200 -5,10.700 C-5.600,11.200 -5.600,12.500 -5.700,14 L-6.100,20 L-7.300,27.500 L-7,29.700 L-6.100,29 L-4.500,21.500 L-3.900,16.500 C-3.600,19 -3.200,20.500 -3.200,22 C-4.200,24.500 -4.600,27 -4.600,30 C-4.600,35 -4,40 -3.700,44 C-3.600,47 -3.300,50 -3,52.500 L-3.800,54 L-3.600,54.700 L-0.600,54.700 L-0.500,52 L-0.400,44 L-0.200,31.500 L0,30.500 L0.200,31.500 L0.400,44 L0.500,52 L0.600,54.700 L3.600,54.700 L3.800,54 L3,52.500 C3.300,50 3.600,47 3.700,44 C4,40 4.600,35 4.600,30 C4.600,27 4.200,24.500 3.200,22 C3.200,20.500 3.600,19 3.900,16.500 L4.500,21.500 L6.100,29 L7,29.700 L7.300,27.500 L6.100,20 L5.700,14 C5.600,12.500 5.600,11.200 5,10.700 C4.300,10.200 2.500,10 1.200,9.200 L1.100,6.500 Z"/></g>
<g transform="translate(350.5,387.3)" fill="url(#gm)"><ellipse cx="0" cy="3" rx="2.75" ry="3.1"/><path d="M-1.25,5.300 L-1.35,7.900 C-3,9.100 -5.600,9.700 -6.700,10.800 C-7.500,11.600 -7.700,13 -7.900,15 L-9.800,28.300 C-10.400,29.800 -10.400,31.200 -9.700,32.400 L-8.700,32 L-8.500,29.600 L-5.100,17.500 L-4.900,24 C-5.500,28 -5.900,34 -5.900,40 L-5.700,47 L-5.200,54.500 L-6.900,56.300 L-6.700,57.200 L-3.600,57.200 L-3.400,55 L-2.600,46 L-0.500,32.500 L0,31 L0.500,32.500 L2.600,46 L3.400,55 L3.600,57.200 L6.700,57.200 L6.900,56.300 L5.200,54.500 L5.700,47 L5.900,40 C5.900,34 5.500,28 4.900,24 L5.100,17.500 L8.500,29.600 L8.700,32 L9.700,32.400 C10.400,31.200 10.400,29.800 9.800,28.300 L7.900,15 C7.700,13 7.500,11.600 6.700,10.800 C5.600,9.700 3,9.100 1.350,7.900 L1.250,5.300 Z"/></g>
<g transform="translate(373.5,387.6)" fill="url(#gf)"><ellipse cx="0" cy="3.1" rx="2.75" ry="3.1"/><path d="M-1.1,5.300 L-1.2,8.200 C-2.500,9.300 -4.800,9.300 -5.800,9.700 C-6.500,10.200 -6.500,11.500 -6.600,13 L-7.300,20 L-10.200,29.400 L-9.900,31.200 L-9,30.400 L-5.600,21.500 L-4.700,15.500 C-4.200,18 -3.500,20 -3.500,21.500 C-4.800,24 -5.700,27 -5.700,30 C-5.700,35 -4.900,40 -4.500,44 C-4.400,48 -3.700,51 -3.100,54 L-4.400,56 L-4.200,56.700 L-1.500,56.700 L-1.400,54 L-0.700,44 L-0.300,31.500 L0,30.500 L0.300,31.500 L0.700,44 L1.400,54 L1.500,56.700 L4.200,56.700 L4.400,56 L3.100,54 C3.700,51 4.400,48 4.500,44 C4.900,40 5.700,35 5.700,30 C5.700,27 4.800,24 3.500,21.500 C3.500,20 4.200,18 4.700,15.500 L5.600,21.500 L9,30.400 L9.900,31.200 L10.200,29.400 L7.300,20 L6.600,13 C6.500,11.500 6.500,10.200 5.800,9.700 C4.800,9.300 2.500,9.300 1.200,8.200 L1.100,5.300 Z"/></g>
<g transform="translate(397.2,387.3)" fill="url(#gm)"><ellipse cx="0" cy="3" rx="2.75" ry="3.1"/><path d="M-1.25,5.300 L-1.35,7.900 C-3,9.100 -5.600,9.700 -6.700,10.800 C-7.500,11.600 -7.700,13 -7.900,15 L-9.800,28.300 C-10.400,29.800 -10.400,31.200 -9.700,32.400 L-8.700,32 L-8.500,29.600 L-5.100,17.500 L-4.900,24 C-5.500,28 -5.900,34 -5.900,40 L-5.700,47 L-5.200,54.500 L-6.900,56.300 L-6.700,57.200 L-3.600,57.200 L-3.400,55 L-2.600,46 L-0.500,32.500 L0,31 L0.500,32.500 L2.600,46 L3.400,55 L3.600,57.200 L6.700,57.200 L6.900,56.300 L5.200,54.500 L5.700,47 L5.900,40 C5.900,34 5.500,28 4.900,24 L5.100,17.500 L8.500,29.600 L8.700,32 L9.700,32.400 C10.400,31.200 10.400,29.800 9.800,28.300 L7.900,15 C7.700,13 7.500,11.600 6.700,10.800 C5.600,9.700 3,9.100 1.350,7.900 L1.250,5.300 Z"/></g>
<text x="227.20" y="455.70" font-size="6.5" font-weight="700" fill="#262626" textLength="12.60" lengthAdjust="spacingAndGlyphs">71%</text>
<text x="241.80" y="455.70" font-size="6.5" fill="#262626" textLength="55.20" lengthAdjust="spacingAndGlyphs" stroke="#262626" stroke-width="0.1">Aged 25 and under</text>
<text x="343.70" y="455.70" font-size="6.5" font-weight="700" fill="#262626" textLength="13.60" lengthAdjust="spacingAndGlyphs">29%</text>
<text x="359.80" y="455.70" font-size="6.5" fill="#262626" textLength="37.50" lengthAdjust="spacingAndGlyphs" stroke="#262626" stroke-width="0.1">Aged over 25</text>
<text x="197.00" y="476.30" font-size="3.9" fill="#555" textLength="248.00" lengthAdjust="spacingAndGlyphs">This data has been provided by QPS Entertainment Precinct group and is still subject to verification by the Griffith University Evaluation Team.</text>
<text x="461.60" y="264.00" font-size="8.9" font-weight="700" fill="#262626" textLength="174.00" lengthAdjust="spacingAndGlyphs">Total number of Wandings and Offences</text>
<rect x="461.20" y="284.50" width="24.50" height="5.00" fill="#c63432" />
<rect x="461.20" y="293.40" width="24.50" height="5.00" fill="#8a8a8a" />
<rect x="461.20" y="302.30" width="24.50" height="5.00" fill="#5f5f5f" />
<text x="493.50" y="288.60" font-size="5.4" textLength="42.00" lengthAdjust="spacingAndGlyphs">Weapon offences</text>
<text x="493.50" y="297.30" font-size="5.4" textLength="28.00" lengthAdjust="spacingAndGlyphs">All offences</text>
<text x="493.50" y="306.00" font-size="5.4" textLength="36.50" lengthAdjust="spacingAndGlyphs">Total wandings</text>
<rect x="461.60" y="421.60" width="14.40" height="21.70" fill="#8a8a8a" />
<rect x="461.60" y="422.60" width="14.40" height="20.70" fill="#5f5f5f" />
<rect x="461.60" y="421.40" width="14.40" height="0.70" fill="#cc8a88" />
<rect x="481.78" y="435.20" width="14.40" height="8.10" fill="#8a8a8a" />
<rect x="481.78" y="436.00" width="14.40" height="7.30" fill="#5f5f5f" />
<rect x="481.78" y="435.00" width="14.40" height="0.70" fill="#cc8a88" />
<rect x="501.96" y="431.70" width="14.40" height="11.60" fill="#8a8a8a" />
<rect x="501.96" y="432.60" width="14.40" height="10.70" fill="#5f5f5f" />
<rect x="501.96" y="431.50" width="14.40" height="0.70" fill="#cc8a88" />
<rect x="522.14" y="439.90" width="14.40" height="3.40" fill="#8a8a8a" />
<rect x="522.14" y="440.40" width="14.40" height="2.90" fill="#5f5f5f" />
<rect x="522.14" y="439.70" width="14.40" height="0.70" fill="#cc8a88" />
<rect x="542.32" y="434.40" width="14.40" height="8.90" fill="#8a8a8a" />
<rect x="542.32" y="435.00" width="14.40" height="8.30" fill="#5f5f5f" />
<rect x="542.32" y="434.20" width="14.40" height="0.70" fill="#cc8a88" />
<rect x="562.50" y="429.00" width="14.40" height="14.30" fill="#8a8a8a" />
<rect x="562.50" y="429.80" width="14.40" height="13.50" fill="#5f5f5f" />
<rect x="562.50" y="428.80" width="14.40" height="0.70" fill="#cc8a88" />
<rect x="582.68" y="398.70" width="14.40" height="44.60" fill="#8a8a8a" />
<rect x="582.68" y="399.90" width="14.40" height="43.40" fill="#5f5f5f" />
<rect x="582.68" y="398.50" width="14.40" height="0.70" fill="#cc8a88" />
<rect x="602.86" y="408.80" width="14.40" height="34.50" fill="#8a8a8a" />
<rect x="602.86" y="410.00" width="14.40" height="33.30" fill="#5f5f5f" />
<rect x="602.86" y="408.60" width="14.40" height="0.70" fill="#cc8a88" />
<rect x="623.04" y="415.00" width="14.40" height="28.30" fill="#8a8a8a" />
<rect x="623.04" y="415.80" width="14.40" height="27.50" fill="#5f5f5f" />
<rect x="623.04" y="414.80" width="14.40" height="0.70" fill="#cc8a88" />
<rect x="643.22" y="393.30" width="14.40" height="50.00" fill="#8a8a8a" />
<rect x="643.22" y="395.50" width="14.40" height="47.80" fill="#5f5f5f" />
<rect x="643.22" y="393.10" width="14.40" height="0.70" fill="#cf4a47" />
<rect x="663.40" y="333.90" width="14.40" height="109.40" fill="#8a8a8a" />
<rect x="663.40" y="339.10" width="14.40" height="104.20" fill="#5f5f5f" />
<rect x="663.40" y="333.70" width="14.40" height="1.00" fill="#cf4a47" />
<rect x="683.58" y="268.70" width="14.40" height="174.60" fill="#8a8a8a" />
<rect x="683.58" y="273.30" width="14.40" height="170.00" fill="#5f5f5f" />
<rect x="683.58" y="268.50" width="14.40" height="1.00" fill="#cf4a47" />
<text x="461.60" y="454.60" font-size="4.6" font-weight="700" fill="#262626" textLength="21.40" lengthAdjust="spacingAndGlyphs">MAY 2021</text>
<text x="671.20" y="454.60" font-size="4.6" font-weight="700" fill="#262626" textLength="26.80" lengthAdjust="spacingAndGlyphs">APRIL 2022</text>
<line x1="487.00" y1="453.20" x2="668.00" y2="453.20" stroke="#b4b4b4" stroke-width="0.6" />
<line x1="13.00" y1="507.30" x2="713.00" y2="507.30" stroke="#7a7a7a" stroke-width="1" />
<rect x="13.00" y="528.20" width="344.00" height="476.00" fill="#e3e3e2" />
<rect x="363.20" y="528.20" width="172.00" height="348.20" fill="#e3e3e2" />
<rect x="363.20" y="883.30" width="350.20" height="120.90" fill="#e3e3e2" />
<text x="25.50" y="549.25" font-size="8.6" font-weight="700" fill="#262626" textLength="161.50" lengthAdjust="spacing" stroke="#262626" stroke-width="0.3" stroke-linejoin="round">PROPERTY SEIZED FROM WANDING</text>
<line x1="25.00" y1="559.40" x2="344.80" y2="559.40" stroke="#5a5a5a" stroke-width="0.8" />
<line x1="25.00" y1="642.40" x2="344.80" y2="642.40" stroke="#5a5a5a" stroke-width="0.8" />
<line x1="33.90" y1="559.40" x2="33.90" y2="642.40" stroke="#8a8a8a" stroke-width="1.3" />
<line x1="109.60" y1="559.40" x2="109.60" y2="642.40" stroke="#8a8a8a" stroke-width="1.3" />
<line x1="172.10" y1="559.40" x2="172.10" y2="642.40" stroke="#8a8a8a" stroke-width="1.3" />
<line x1="246.10" y1="559.40" x2="246.10" y2="642.40" stroke="#8a8a8a" stroke-width="1.3" />
<text transform="translate(30.50,633.80) rotate(-90)" font-size="6.2" textLength="15.60" lengthAdjust="spacingAndGlyphs" fill="#262626" stroke="#262626" stroke-width="0.3">KEYS</text>
<text transform="translate(106.30,633.80) rotate(-90)" font-size="6.2" textLength="37.40" lengthAdjust="spacingAndGlyphs" fill="#262626" stroke="#262626" stroke-width="0.3">STATIONERY</text>
<text transform="translate(168.20,634.00) rotate(-90)" font-size="6.2" textLength="58.30" lengthAdjust="spacingAndGlyphs" fill="#262626" stroke="#262626" stroke-width="0.3">KITCHEN UTENSILS</text>
<text transform="translate(243.00,634.00) rotate(-90)" font-size="6.2" textLength="52.80" lengthAdjust="spacingAndGlyphs" fill="#262626" stroke="#262626" stroke-width="0.3">BLADED OBJECTS</text>
<ellipse cx="49.7" cy="601.1" rx="6.3" ry="5.2" fill="none" stroke="#1c1c1c" stroke-width="2"/>
<path d="M48,606.6 h3.8 v3.200 h-0.6 v1.400 h0.6 v1.400 h-0.6 v1.400 h0.6 V632 q0,1 -1,1 h-1.800 q-1,0 -1,-1 V630.4 h-4.600 l1.300,-2.600 l-1.300,-4.600 l2.300,2.200 l2.300,-2.400z" fill="#1c1c1c" />
<circle cx="70.30" cy="604.80" r="8.00" fill="#1c1c1c" />
<circle cx="70.30" cy="601.60" r="1.50" fill="#e3e3e2" />
<path d="M67.6,611 h5 V620.3 l-1,1.200 l1,1.300 v1.700 l-1,1.400 l1,1.400 V631.2 q0,1.800 -2.500,1.800 q-2.500,0 -2.500,-1.800z" fill="#1c1c1c" />
<path d="M119.6,583 h3.700 q0.8,0 0.8,0.8 V626.5 l-2.600,6.500 l-2.700,-6.500 V583.8 q0,-0.8 0.8,-0.8z" fill="#1c1c1c" />
<path d="M130.4,587.6 q0,-1 1,-1.500 l6.500,-2.200 q1,0 1,1 V623.6 h-0.800 v8.700 h-5.400 l1,-8.700 h-3.300z" fill="#1c1c1c" />
<path d="M180.1,587.4 h0.9 v6 h0.7 v-6 h0.9 v6 h0.7 v-6 h0.9 v6 h0.7 v-6 h0.8 V597 q0,2.400 -1.700,3.200 L184,610 q2,12 1.500,19.500 q-0.300,3.100 -2.600,3.100 q-2.300,0 -2.600,-3.100 q-0.500,-7.500 1.500,-19.500 L181.800,600.200 q-1.700,-0.800 -1.700,-3.200z" fill="#1c1c1c" />
<path d="M193.3,587.4 q1.600,0.400 1.600,3 V608 l-0.700,2.500 q1.200,12 0.700,19 q-0.200,3.100 -2.100,3.100 q-1.900,0 -2.100,-3.100 q-0.500,-7 0.700,-19 q-1.600,-14 1.900,-23.100z" fill="#1c1c1c" />
<path d="M200.6,587.4 h3.800 q0.800,0 0.800,0.800 V606.600 h5.800 q2.600,0.600 2.600,3.600 V631.600 q0,1 -1,1 H200.800 q-1,0 -1,-1 V588.200 q0,-0.800 0.800,-0.800z" fill="#1c1c1c" />
<circle cx="202.50" cy="589.90" r="0.80" fill="#e3e3e2" />
<circle cx="202.50" cy="604.30" r="0.80" fill="#e3e3e2" />
<circle cx="202.40" cy="630.20" r="0.80" fill="#e3e3e2" />
<path d="M261.8,586.9 L262.700,613.500 h-7.900 q0.300,-15 7,-26.600z" fill="#1c1c1c" />
<path d="M257.800,614.800 h4.900 V631.600 q0,1 -1,1 h-2.900 q-1,0 -1,-1z" fill="#1c1c1c" />
<circle cx="260.20" cy="629.90" r="0.80" fill="#e3e3e2" />
<rect x="259.70" y="617.00" width="1.00" height="8.00" fill="#e3e3e2" />
<path d="M272.700,582.400 q3.200,4 3.200,12 V614.600 h1.800 v1.900 h-1.900 l0.300,14.100 q0,2 -2,2 h-2.400 q-2,0 -2,-2 l0.300,-14.100 h-1.900 v-1.900 h1.800 V597 q0.300,-8.600 2.800,-14.600z" fill="#1c1c1c" />
<path d="M287.600,589.400 q1.800,3.600 1.800,10 V617.500 h1.600 v1.600 h-1.600 V630.800 q0,1.800 -1.800,1.800 h-0.600 q-1.800,0 -1.800,-1.800 V619.100 h-1.600 v-1.600 h1.600 V606 q0,-10 2.400,-16.600z" fill="#1c1c1c" />
<path d="M297.3,594.4 L304.9,593.7 Q309,593.4 312,591.9 Q313.4,596.8 312,601.7 Q309,599.4 305.3,599.1 L297.3,598.8Z" fill="#1c1c1c" />
<path d="M299.8,598 h2.3 L302.3,610.6 Q304.5,621 303.6,631 Q303.4,632.4 302,632.4 h-2.400 Q298.200,632.4 298.100,631 Q297.500,620 299.700,610.6Z" fill="#1c1c1c" />
<path d="M318.6,586.2 q0,-1.600 1.600,-1.600 h3.400 q1.600,0 1.600,1.600 V613.5 q0,3 -2.500,3.700 l-0.900,0.300 q-0.600,3.200 1,5.400 q-2.700,-0.700 -3.300,-4.200 q-0.900,-1.500 -0.900,-3.500z" fill="#1c1c1c" />
<path d="M322,585 L329.5,573.7 q1.100,-0.300 1,1 q-1.500,6 -5.200,11z" fill="#1c1c1c" />
<path d="M325,585.2 q4,-1.500 7.800,1.400" fill="none" stroke="#1c1c1c" stroke-width="1.1" stroke-linecap="round"/>
<path d="M325,612.800 L343.800,610.400 q0.800,0.500 0.100,1.100 L325,614.200z" fill="#1c1c1c" />
<path d="M327.600,608.200 l6.800,1.200 l9.700,4.600 q0.300,0.900 -0.600,0.900 l-9.700,-3.900 l-6.400,-1.700z" fill="#1c1c1c" />
<path d="M324.600,613 L340.300,624.300 q0.900,1.300 -0.400,1.900 q-8.500,-2.600 -17.500,-9z" fill="#1c1c1c" />
<path d="M322.800,616.500 L334.300,632.400 q-0.400,1 -1.200,0.600 L320.600,618.600z" fill="#1c1c1c" />
<text x="25.50" y="662.00" font-size="8.6" font-weight="700" fill="#262626" textLength="105.70" lengthAdjust="spacing" stroke="#262626" stroke-width="0.3" stroke-linejoin="round">OFFENDER AGE GROUP</text>
<text x="134.50" y="662.00" font-size="6.1" fill="#262626" textLength="204.20" lengthAdjust="spacingAndGlyphs" stroke="#262626" stroke-width="0.1">(WANDED OFFENDERS THAT WERE IN POSSESSION OF A WEAPON)</text>
<text x="103.60" y="715.20" font-size="34" font-weight="700" fill="#c63432" textLength="34.20" lengthAdjust="spacingAndGlyphs" stroke="#c63432" stroke-width="1.6" stroke-linejoin="round">19</text>
<text x="92.00" y="726.75" font-size="8.7" font-weight="700" fill="#c63432" textLength="37.60" lengthAdjust="spacingAndGlyphs" stroke="#c63432" stroke-width="0.45" stroke-linejoin="round">MEDIAN</text>
<text x="132.20" y="726.75" font-size="8.7" fill="#c63432" textLength="17.80" lengthAdjust="spacingAndGlyphs">AGE</text>
<text x="230.40" y="715.40" font-size="34" font-weight="700" fill="#c63432" textLength="38.60" lengthAdjust="spacingAndGlyphs" stroke="#c63432" stroke-width="1.6" stroke-linejoin="round">24</text>
<text x="218.80" y="726.80" font-size="8.7" font-weight="700" fill="#c63432" textLength="43.20" lengthAdjust="spacingAndGlyphs" stroke="#c63432" stroke-width="0.45" stroke-linejoin="round">AVERAGE</text>
<text x="264.60" y="726.80" font-size="8.7" fill="#c63432" textLength="18.00" lengthAdjust="spacingAndGlyphs">AGE</text>
<circle cx="185.30" cy="690.20" r="4.60" fill="#666666"/>
<path d="M157.70,716.70 C158.30,705.93 162.30,700.80 169.80,700.80 C177.30,700.80 181.30,705.93 181.90,716.70 q0.2,1.2 -1,1.2 H158.70 q-1.200,0 -1,-1.200Z" fill="#666666" stroke="#e3e3e2" stroke-width="1.9" paint-order="stroke"/>
<circle cx="169.80" cy="692.00" r="5.60" fill="#666666" stroke="#e3e3e2" stroke-width="1.9" paint-order="stroke"/>
<path d="M188.70,716.70 C189.30,705.93 193.30,700.80 200.80,700.80 C208.30,700.80 212.30,705.93 212.90,716.70 q0.2,1.2 -1,1.2 H189.70 q-1.200,0 -1,-1.200Z" fill="#666666" stroke="#e3e3e2" stroke-width="1.9" paint-order="stroke"/>
<circle cx="200.80" cy="692.00" r="5.60" fill="#666666" stroke="#e3e3e2" stroke-width="1.9" paint-order="stroke"/>
<path d="M164.20,720.20 C164.80,709.01 169.06,703.70 177.00,703.70 C184.94,703.70 189.20,709.01 189.80,720.20 q0.2,1.2 -1,1.2 H165.20 q-1.200,0 -1,-1.200Z" fill="#666666" stroke="#e3e3e2" stroke-width="1.9" paint-order="stroke"/>
<circle cx="177.00" cy="695.50" r="6.30" fill="#666666" stroke="#e3e3e2" stroke-width="1.9" paint-order="stroke"/>
<path d="M180.80,720.20 C181.40,709.01 185.66,703.70 193.60,703.70 C201.54,703.70 205.80,709.01 206.40,720.20 q0.2,1.2 -1,1.2 H181.80 q-1.200,0 -1,-1.200Z" fill="#666666" stroke="#e3e3e2" stroke-width="1.9" paint-order="stroke"/>
<circle cx="193.60" cy="695.50" r="6.30" fill="#666666" stroke="#e3e3e2" stroke-width="1.9" paint-order="stroke"/>
<path d="M172.40,724.20 C173.00,713.22 177.30,708.00 185.30,708.00 C193.30,708.00 197.60,713.22 198.20,724.20 q0.2,1.2 -1,1.2 H173.40 q-1.200,0 -1,-1.200Z" fill="#666666" stroke="#e3e3e2" stroke-width="1.9" paint-order="stroke"/>
<circle cx="185.30" cy="699.80" r="7.00" fill="#666666" stroke="#e3e3e2" stroke-width="1.9" paint-order="stroke"/>
<line x1="25.00" y1="745.00" x2="344.80" y2="745.00" stroke="#5a5a5a" stroke-width="0.8" />
<text x="25.50" y="764.00" font-size="8.6" font-weight="700" fill="#262626" textLength="156.50" lengthAdjust="spacing" stroke="#262626" stroke-width="0.3" stroke-linejoin="round">CHARGES LINKED WITH WANDING</text>
<circle cx="66.00" cy="821.00" r="33.50" fill="none" stroke="#5f5f5f" stroke-width="8.5"/>
<path d="M80.16,790.64 A33.50,33.50 0 0 1 99.50,821.00" fill="none" stroke="#c63432" stroke-width="8.5"/>
<text x="65.10" y="819.25" font-size="16.8" font-weight="700" fill="#c63432" text-anchor="middle" textLength="31.20" lengthAdjust="spacingAndGlyphs" stroke="#c63432" stroke-width="0.8" stroke-linejoin="round">254</text>
<text x="65.75" y="828.75" font-size="7.4" font-weight="700" fill="#262626" text-anchor="middle" textLength="48.50" lengthAdjust="spacingAndGlyphs" stroke="#262626" stroke-width="0.2" stroke-linejoin="round">Total charges</text>
<text x="65.60" y="835.50" font-size="5.5" text-anchor="middle" textLength="42.80" lengthAdjust="spacingAndGlyphs" stroke="#303030" stroke-width="0.1">linked to wanding</text>
<line x1="99.50" y1="799.00" x2="115.75" y2="799.00" stroke="#444" stroke-width="0.7" />
<text x="119.00" y="803.25" font-size="7.6" font-weight="700" fill="#c63432" textLength="9.20" lengthAdjust="spacingAndGlyphs" stroke="#c63432" stroke-width="0.3" stroke-linejoin="round">55</text>
<text x="131.00" y="803.25" font-size="6.2" fill="#262626" textLength="26.20" lengthAdjust="spacingAndGlyphs" stroke="#262626" stroke-width="0.22" stroke-linejoin="round">Weapons</text>
<text x="119.00" y="810.00" font-size="6.2" fill="#262626" textLength="43.00" lengthAdjust="spacingAndGlyphs" stroke="#262626" stroke-width="0.22" stroke-linejoin="round">related charges</text>
<circle cx="227.00" cy="821.00" r="33.50" fill="none" stroke="#5f5f5f" stroke-width="8.5"/>
<path d="M249.42,796.10 A33.50,33.50 0 0 1 260.17,816.34" fill="none" stroke="#c63432" stroke-width="8.5"/>
<text x="227.00" y="815.00" font-size="16.8" font-weight="700" fill="#c63432" text-anchor="middle" textLength="20.50" lengthAdjust="spacingAndGlyphs" stroke="#c63432" stroke-width="0.8" stroke-linejoin="round">55</text>
<text x="227.00" y="823.50" font-size="7.4" font-weight="700" fill="#262626" text-anchor="middle" textLength="33.00" lengthAdjust="spacingAndGlyphs" stroke="#262626" stroke-width="0.2" stroke-linejoin="round">Weapons</text>
<text x="227.10" y="832.25" font-size="7.4" font-weight="700" fill="#262626" text-anchor="middle" textLength="25.80" lengthAdjust="spacingAndGlyphs" stroke="#262626" stroke-width="0.2" stroke-linejoin="round">related</text>
<text x="227.00" y="839.75" font-size="5.5" text-anchor="middle" textLength="19.00" lengthAdjust="spacingAndGlyphs" stroke="#303030" stroke-width="0.1">charges</text>
<path d="M262.2,799 H277.2 V843 H261" fill="none" stroke="#444" stroke-width="0.7"/>
<text x="280.25" y="803.25" font-size="7.6" font-weight="700" fill="#c63432" textLength="4.30" lengthAdjust="spacingAndGlyphs" stroke="#c63432" stroke-width="0.3" stroke-linejoin="round">6</text>
<text x="286.75" y="803.25" font-size="6.2" fill="#262626" textLength="34.30" lengthAdjust="spacingAndGlyphs" stroke="#262626" stroke-width="0.22" stroke-linejoin="round">Broadbeach</text>
<text x="280.25" y="843.75" font-size="7.6" font-weight="700" fill="#c63432" textLength="9.00" lengthAdjust="spacingAndGlyphs" stroke="#c63432" stroke-width="0.3" stroke-linejoin="round">49</text>
<text x="292.00" y="843.75" font-size="6.2" fill="#262626" textLength="46.00" lengthAdjust="spacingAndGlyphs" stroke="#262626" stroke-width="0.22" stroke-linejoin="round">Surfers Paradise</text>
<line x1="25.00" y1="874.30" x2="344.80" y2="874.30" stroke="#5a5a5a" stroke-width="0.8" />
<text x="25.50" y="893.25" font-size="8.6" font-weight="700" fill="#262626" textLength="211.70" lengthAdjust="spacing" stroke="#262626" stroke-width="0.3" stroke-linejoin="round">WANDED PERSONS IN POSSESSION OF KNIVES</text>
<circle cx="66.00" cy="950.00" r="33.50" fill="none" stroke="#5f5f5f" stroke-width="8.5"/>
<path d="M87.53,924.34 A33.50,33.50 0 0 1 95.30,933.76" fill="none" stroke="#c63432" stroke-width="8.5"/>
<text x="65.60" y="949.00" font-size="16.8" font-weight="700" fill="#c63432" text-anchor="middle" textLength="23.80" lengthAdjust="spacingAndGlyphs" stroke="#c63432" stroke-width="0.8" stroke-linejoin="round">113</text>
<text x="65.75" y="958.00" font-size="7.4" font-weight="700" fill="#262626" text-anchor="middle" textLength="49.00" lengthAdjust="spacingAndGlyphs" stroke="#262626" stroke-width="0.2" stroke-linejoin="round">Total wanded</text>
<text x="65.75" y="965.50" font-size="5.5" text-anchor="middle" textLength="43.50" lengthAdjust="spacingAndGlyphs" stroke="#303030" stroke-width="0.1">found with knives</text>
<path d="M101.2,928.25 H116.5 V972.25 H100" fill="none" stroke="#444" stroke-width="0.7"/>
<text x="119.00" y="932.50" font-size="7.6" font-weight="700" fill="#c63432" textLength="4.30" lengthAdjust="spacingAndGlyphs" stroke="#c63432" stroke-width="0.3" stroke-linejoin="round">6</text>
<text x="125.75" y="932.50" font-size="6.2" fill="#262626" textLength="23.20" lengthAdjust="spacingAndGlyphs" stroke="#262626" stroke-width="0.22" stroke-linejoin="round">Females</text>
<text x="119.00" y="972.50" font-size="7.6" font-weight="700" fill="#c63432" textLength="12.20" lengthAdjust="spacingAndGlyphs" stroke="#c63432" stroke-width="0.3" stroke-linejoin="round">107</text>
<text x="134.25" y="972.50" font-size="6.2" fill="#262626" textLength="16.20" lengthAdjust="spacingAndGlyphs" stroke="#262626" stroke-width="0.22" stroke-linejoin="round">Males</text>
<path d="M186.7,912.1 Q170,926 160.8,951 L164.2,954.3 L171.2,957.3 Q182,932 186.7,912.1Z" fill="#1c1c1c" />
<path d="M164.5,957 L170.3,959.4 L159.9,986.7 L153.3,983.9Z" fill="#1c1c1c" />
<circle cx="166.20" cy="961.80" r="1.30" fill="#e3e3e2" />
<circle cx="158.00" cy="982.30" r="1.30" fill="#e3e3e2" />
<circle cx="227.20" cy="950.00" r="33.50" fill="none" stroke="#5f5f5f" stroke-width="8.5"/>
<path d="M199.26,931.51 A33.50,33.50 0 0 1 260.70,950.00" fill="none" stroke="#c63432" stroke-width="8.5"/>
<text x="227.00" y="949.00" font-size="16.8" font-weight="700" fill="#c63432" text-anchor="middle" textLength="23.80" lengthAdjust="spacingAndGlyphs" stroke="#c63432" stroke-width="0.8" stroke-linejoin="round">113</text>
<text x="227.00" y="958.00" font-size="7.4" font-weight="700" fill="#262626" text-anchor="middle" textLength="49.00" lengthAdjust="spacingAndGlyphs" stroke="#262626" stroke-width="0.2" stroke-linejoin="round">Total wanded</text>
<text x="227.00" y="965.50" font-size="5.5" text-anchor="middle" textLength="43.50" lengthAdjust="spacingAndGlyphs" stroke="#303030" stroke-width="0.1">found with knives</text>
<path d="M262,928.25 H277.1 V971.7 H262" fill="none" stroke="#444" stroke-width="0.7"/>
<text x="280.10" y="932.50" font-size="7.6" font-weight="700" fill="#c63432" textLength="9.20" lengthAdjust="spacingAndGlyphs" stroke="#c63432" stroke-width="0.3" stroke-linejoin="round">46</text>
<text x="292.10" y="932.50" font-size="6.2" fill="#262626" textLength="25.00" lengthAdjust="spacingAndGlyphs" stroke="#262626" stroke-width="0.22" stroke-linejoin="round">Juveniles</text>
<text x="280.10" y="972.70" font-size="7.6" font-weight="700" fill="#c63432" textLength="9.20" lengthAdjust="spacingAndGlyphs" stroke="#c63432" stroke-width="0.3" stroke-linejoin="round">67</text>
<text x="292.00" y="972.70" font-size="6.2" fill="#262626" textLength="17.60" lengthAdjust="spacingAndGlyphs" stroke="#262626" stroke-width="0.22" stroke-linejoin="round">Adults</text>
<text x="25.50" y="1013.40" font-size="4.3" fill="#444" textLength="360.70" lengthAdjust="spacingAndGlyphs">Griffith Criminology Institute (GCI) Wanding Trial (2021–2022) Status Report 2. The information contained in this publication is based on 2021–2021 data and is current as of May 2022.</text>
<text x="375.50" y="549.25" font-size="8.6" font-weight="700" fill="#262626" textLength="96.50" lengthAdjust="spacing" stroke="#262626" stroke-width="0.3" stroke-linejoin="round">CURRENT ACTIVITIES</text>
<line x1="375.50" y1="559.30" x2="523.00" y2="559.30" stroke="#5a5a5a" stroke-width="0.8" />
<line x1="375.50" y1="607.30" x2="523.00" y2="607.30" stroke="#5a5a5a" stroke-width="0.8" />
<line x1="375.50" y1="663.30" x2="523.00" y2="663.30" stroke="#5a5a5a" stroke-width="0.8" />
<line x1="375.50" y1="720.00" x2="523.00" y2="720.00" stroke="#5a5a5a" stroke-width="0.8" />
<text x="421.75" y="576.50" font-size="5.9" fill="#474747" textLength="93.25" lengthAdjust="spacingAndGlyphs" stroke="#474747" stroke-width="0.1">Focus groups with operational police</text>
<text x="421.75" y="585.00" font-size="5.9" fill="#474747" textLength="84.00" lengthAdjust="spacingAndGlyphs" stroke="#474747" stroke-width="0.1">officers scheduled to be finalised</text>
<text x="421.75" y="593.50" font-size="5.9" fill="#474747" textLength="22.30" lengthAdjust="spacingAndGlyphs" stroke="#474747" stroke-width="0.1">between</text>
<text x="446.00" y="593.50" font-size="6.3" font-weight="700" fill="#262626" textLength="71.00" lengthAdjust="spacingAndGlyphs">9th and 17th May 2022</text>
<text x="517.20" y="593.50" font-size="5.9" fill="#474747" stroke="#474747" stroke-width="0.1">.</text>
<text x="421.75" y="624.25" font-size="5.9" fill="#474747" textLength="92.00" lengthAdjust="spacingAndGlyphs" stroke="#474747" stroke-width="0.1">Interviews with senior police inside</text>
<text x="421.75" y="632.75" font-size="5.9" fill="#474747" textLength="91.25" lengthAdjust="spacingAndGlyphs" stroke="#474747" stroke-width="0.1">and outside the Wanding trial area,</text>
<text x="421.75" y="641.25" font-size="5.9" fill="#474747" textLength="79.50" lengthAdjust="spacingAndGlyphs" stroke="#474747" stroke-width="0.1">and stakeholders are currently</text>
<text x="421.75" y="649.50" font-size="5.9" fill="#474747" textLength="27.00" lengthAdjust="spacingAndGlyphs" stroke="#474747" stroke-width="0.1">underway.</text>
<text x="421.75" y="680.75" font-size="5.9" fill="#474747" textLength="86.25" lengthAdjust="spacingAndGlyphs" stroke="#474747" stroke-width="0.1">Obtained and currently analysing</text>
<text x="421.75" y="689.25" font-size="5.9" fill="#474747" textLength="87.50" lengthAdjust="spacingAndGlyphs" stroke="#474747" stroke-width="0.1">QPRIME data to ascertain impact</text>
<text x="421.75" y="697.75" font-size="5.9" fill="#474747" textLength="86.25" lengthAdjust="spacingAndGlyphs" stroke="#474747" stroke-width="0.1">on offences and offenders in trial</text>
<text x="421.75" y="706.00" font-size="5.9" fill="#474747" textLength="49.75" lengthAdjust="spacingAndGlyphs" stroke="#474747" stroke-width="0.1">and adjacent areas.</text>
<text x="421.75" y="737.25" font-size="5.9" fill="#474747" textLength="82.50" lengthAdjust="spacingAndGlyphs" stroke="#474747" stroke-width="0.1">Community perceptions survey</text>
<text x="421.75" y="745.75" font-size="5.9" fill="#474747" textLength="80.25" lengthAdjust="spacingAndGlyphs" stroke="#474747" stroke-width="0.1">currently deployed for visitors,</text>
<text x="421.75" y="754.25" font-size="5.9" fill="#474747" textLength="95.25" lengthAdjust="spacingAndGlyphs" stroke="#474747" stroke-width="0.1">residents and those employed in the</text>
<text x="421.75" y="762.75" font-size="5.9" fill="#474747" textLength="42.50" lengthAdjust="spacingAndGlyphs" stroke="#474747" stroke-width="0.1">Gold Coast area.</text>
<text x="421.75" y="780.00" font-size="5.9" fill="#474747" textLength="85.75" lengthAdjust="spacingAndGlyphs" stroke="#474747" stroke-width="0.1">The community survey went live</text>
<text x="421.75" y="797.00" font-size="5.9" fill="#474747" textLength="95.25" lengthAdjust="spacingAndGlyphs" stroke="#474747" stroke-width="0.1">advertised on Facebook and Twitter,</text>
<text x="421.75" y="805.50" font-size="5.9" fill="#474747" textLength="90.25" lengthAdjust="spacingAndGlyphs" stroke="#474747" stroke-width="0.1">as well as around various locations</text>
<text x="421.75" y="814.00" font-size="5.9" fill="#474747" textLength="71.50" lengthAdjust="spacingAndGlyphs" stroke="#474747" stroke-width="0.1">in the Surfers Paradise SNP.</text>
<text x="421.75" y="831.75" font-size="5.9" fill="#474747" textLength="93.25" lengthAdjust="spacingAndGlyphs" stroke="#474747" stroke-width="0.1">The current number of responses is</text>
<text x="421.75" y="840.25" font-size="5.9" fill="#474747" textLength="91.25" lengthAdjust="spacingAndGlyphs" stroke="#474747" stroke-width="0.1">82, and promotion of participation</text>
<text x="421.75" y="848.75" font-size="5.9" fill="#474747" textLength="67.25" lengthAdjust="spacingAndGlyphs" stroke="#474747" stroke-width="0.1">in the survey is continuing.</text>
<text x="421.75" y="788.50" font-size="5.9" fill="#474747" textLength="6.30" lengthAdjust="spacingAndGlyphs" stroke="#474747" stroke-width="0.1">on</text>
<text x="430.00" y="788.50" font-size="6.3" font-weight="700" fill="#262626" textLength="41.30" lengthAdjust="spacingAndGlyphs">11 April 2022</text>
<text x="471.30" y="788.50" font-size="5.9" fill="#474747" textLength="32.40" lengthAdjust="spacingAndGlyphs" stroke="#474747" stroke-width="0.1">, it has been</text>
<circle cx="395.80" cy="583.20" r="17.00" fill="#5e5e5e" />
<g fill="#fff"><circle cx="389.8" cy="575.1" r="2.1"/><circle cx="401.5" cy="575.1" r="2.1"/><path d="M385.5,583.6 q0.6,-5.400 4.400,-5.800 q2,0 3,1.600 q-2.400,1.800 -2.800,4.200z"/><path d="M405.90000000000003,583.6 q-0.6,-5.400 -4.400,-5.800 q-2,0 -3,1.600 q2.400,1.800 2.800,4.200z"/><circle cx="395.6" cy="573.9000000000001" r="2.600" stroke="#5e5e5e" stroke-width="0.5"/><path d="M390.8,583.6 q0.4,-6.200 4.800,-6.200 q4.400,0 4.800,6.200z"/></g>
<path d="M385.3,584.2 h21 a10.5,10.5 0 0 1 -21,0z" fill="none" stroke="#fff" stroke-width="1"/>
<g stroke="#fff" stroke-width="1.1"><line x1="395.8" y1="584.7" x2="400.0" y2="588.8000000000001" stroke-width="1.4"/><line x1="395.8" y1="591.4000000000001" x2="395.8" y2="593.2"/><line x1="391.6" y1="590.4000000000001" x2="390.7" y2="592.0"/><line x1="400.0" y1="590.4000000000001" x2="400.90000000000003" y2="592.0"/><line x1="388.6" y1="587.6" x2="387.0" y2="588.5"/><line x1="403.0" y1="587.6" x2="404.6" y2="588.5"/></g>
<circle cx="394.90" cy="634.80" r="17.00" fill="#5e5e5e" />
<g fill="#fff"><path d="M385.62,630.91 l2.28,-1.23 l2.28,1.23 l-0.47,1.42 h-3.61z"/><rect x="385.43" y="632.72" width="4.94" height="0.85"/><path d="M386.09,633.95 h3.61 v0.95 a1.80,1.90 0 0 1 -3.61,0z"/></g>
<g fill="#fff"><path d="M399.92,630.91 l2.28,-1.23 l2.28,1.23 l-0.47,1.42 h-3.61z"/><rect x="399.73" y="632.72" width="4.94" height="0.85"/><path d="M400.39,633.95 h3.61 v0.95 a1.80,1.90 0 0 1 -3.61,0z"/></g>
<g fill="#fff"><path d="M392.44,628.07 l2.76,-1.49 l2.76,1.49 l-0.57,1.72 h-4.37z"/><rect x="392.21" y="630.25" width="5.98" height="1.03"/><path d="M393.01,631.75 h4.37 v1.15 a2.18,2.30 0 0 1 -4.37,0z"/></g>
<g fill="#fff"><path d="M383.29999999999995,643.0999999999999 q1.600,-6 5.400,-6 q1.600,0 2.400,0.800 q-2,2.400 -2.400,5.200z"/><path d="M406.9,643.0999999999999 q-1.600,-6 -5.400,-6 q-1.600,0 -2.400,0.800 q2,2.400 2.400,5.200z"/><path d="M390.0,643.0999999999999 q0.600,-7.300 5.100,-7.300 q4.600,0 5.200,7.300z"/></g>
<circle cx="395.00" cy="691.60" r="17.00" fill="#5e5e5e" />
<rect x="388.00" y="696.20" width="1.80" height="3.90" fill="#fff" />
<rect x="390.80" y="689.10" width="1.80" height="11.00" fill="#fff" />
<rect x="393.90" y="686.80" width="1.80" height="13.30" fill="#fff" />
<rect x="397.00" y="684.10" width="1.80" height="16.00" fill="#fff" />
<rect x="400.00" y="682.00" width="1.80" height="18.10" fill="#fff" />
<circle cx="395.00" cy="785.40" r="17.00" fill="#5e5e5e" />
<circle cx="395.20" cy="779.10" r="2.25" fill="#fff"/>
<path d="M381.68,791.47 C382.28,786.80 383.93,784.29 387.60,784.29 C391.28,784.29 392.93,786.80 393.53,791.47 q0.2,1.2 -1,1.2 H382.68 q-1.200,0 -1,-1.200Z" fill="#fff" stroke="#5e5e5e" stroke-width="1.0" paint-order="stroke"/>
<circle cx="387.60" cy="779.98" r="2.74" fill="#fff" stroke="#5e5e5e" stroke-width="1.0" paint-order="stroke"/>
<path d="M396.87,791.47 C397.47,786.80 399.12,784.29 402.80,784.29 C406.47,784.29 408.12,786.80 408.72,791.47 q0.2,1.2 -1,1.2 H397.87 q-1.200,0 -1,-1.200Z" fill="#fff" stroke="#5e5e5e" stroke-width="1.0" paint-order="stroke"/>
<circle cx="402.80" cy="779.98" r="2.74" fill="#fff" stroke="#5e5e5e" stroke-width="1.0" paint-order="stroke"/>
<path d="M384.86,793.18 C385.46,788.31 387.24,785.71 391.13,785.71 C395.02,785.71 396.80,788.31 397.40,793.18 q0.2,1.2 -1,1.2 H385.86 q-1.200,0 -1,-1.200Z" fill="#fff" stroke="#5e5e5e" stroke-width="1.0" paint-order="stroke"/>
<circle cx="391.13" cy="781.69" r="3.09" fill="#fff" stroke="#5e5e5e" stroke-width="1.0" paint-order="stroke"/>
<path d="M393.00,793.18 C393.60,788.31 395.38,785.71 399.27,785.71 C403.16,785.71 404.94,788.31 405.54,793.18 q0.2,1.2 -1,1.2 H394.00 q-1.200,0 -1,-1.200Z" fill="#fff" stroke="#5e5e5e" stroke-width="1.0" paint-order="stroke"/>
<circle cx="399.27" cy="781.69" r="3.09" fill="#fff" stroke="#5e5e5e" stroke-width="1.0" paint-order="stroke"/>
<path d="M388.88,795.14 C389.48,790.38 391.28,787.82 395.20,787.82 C399.12,787.82 400.92,790.38 401.52,795.14 q0.2,1.2 -1,1.2 H389.88 q-1.200,0 -1,-1.200Z" fill="#fff" stroke="#5e5e5e" stroke-width="1.0" paint-order="stroke"/>
<circle cx="395.20" cy="783.80" r="3.43" fill="#fff" stroke="#5e5e5e" stroke-width="1.0" paint-order="stroke"/>
<text x="547.70" y="552.50" font-size="16.4" font-weight="700" fill="#c63432" textLength="100.00" lengthAdjust="spacingAndGlyphs">New findings</text>
<text x="547.70" y="570.70" font-size="8.1" font-weight="700" fill="#262626" textLength="157.60" lengthAdjust="spacingAndGlyphs">We observed operations on 3 dates, two</text>
<text x="547.70" y="581.60" font-size="8.1" font-weight="700" fill="#262626" textLength="103.30" lengthAdjust="spacingAndGlyphs">in January and one in April.</text>
<text x="547.70" y="598.20" font-size="5.9" fill="#474747" textLength="154.50" lengthAdjust="spacingAndGlyphs" stroke="#474747" stroke-width="0.1">School holiday periods were selected for the observations,</text>
<text x="547.70" y="607.00" font-size="5.9" fill="#474747" textLength="160.50" lengthAdjust="spacingAndGlyphs" stroke="#474747" stroke-width="0.1">given the likelihood there would be larger numbers of visitors</text>
<text x="547.70" y="615.80" font-size="5.9" fill="#474747" textLength="151.30" lengthAdjust="spacingAndGlyphs" stroke="#474747" stroke-width="0.1">generally and young people specifically in the observation</text>
<text x="547.70" y="624.60" font-size="5.9" fill="#474747" textLength="155.30" lengthAdjust="spacingAndGlyphs" stroke="#474747" stroke-width="0.1">areas at those times. Four separate shifts during authorised</text>
<text x="547.70" y="633.30" font-size="5.9" fill="#474747" textLength="156.30" lengthAdjust="spacingAndGlyphs" stroke="#474747" stroke-width="0.1">wanding operations were observed, occurring in afternoons</text>
<text x="547.70" y="642.00" font-size="5.9" fill="#474747" textLength="157.60" lengthAdjust="spacingAndGlyphs" stroke="#474747" stroke-width="0.1">and evenings. Observations were conducted in both Surfers</text>
<text x="547.70" y="651.20" font-size="5.9" fill="#474747" textLength="148.00" lengthAdjust="spacingAndGlyphs" stroke="#474747" stroke-width="0.1">Paradise and Broadbeach safe night precincts. We noted:</text>
<text x="554.70" y="668.80" font-size="5.9" fill="#474747" textLength="158.30" lengthAdjust="spacingAndGlyphs" stroke="#474747" stroke-width="0.1">Interactions with police appear polite, officers either reading</text>
<text x="554.70" y="677.60" font-size="5.9" fill="#474747" textLength="151.30" lengthAdjust="spacingAndGlyphs" stroke="#474747" stroke-width="0.1">or paraphrasing the required verbal notice and responding</text>
<text x="554.70" y="686.20" font-size="5.9" fill="#474747" textLength="157.30" lengthAdjust="spacingAndGlyphs" stroke="#474747" stroke-width="0.1">to any questions. Questions about the wanding device were</text>
<text x="554.70" y="695.00" font-size="5.9" fill="#474747" textLength="26.70" lengthAdjust="spacingAndGlyphs" stroke="#474747" stroke-width="0.1">answered.</text>
<circle cx="548.30" cy="668.40" r="0.45" fill="#777" />
<text x="554.70" y="709.30" font-size="5.9" fill="#474747" textLength="154.00" lengthAdjust="spacingAndGlyphs" stroke="#474747" stroke-width="0.1">As is also apparent in the administrative data, there appear</text>
<text x="554.70" y="718.00" font-size="5.9" fill="#474747" textLength="135.00" lengthAdjust="spacingAndGlyphs" stroke="#474747" stroke-width="0.1">to be some patterns in who is stopped for wanding.</text>
<circle cx="548.30" cy="708.90" r="0.45" fill="#777" />
<text x="554.70" y="731.70" font-size="5.9" fill="#474747" textLength="138.90" lengthAdjust="spacingAndGlyphs" stroke="#474747" stroke-width="0.1">Most stops are of young men with officers indicating</text>
<text x="554.70" y="740.50" font-size="5.9" fill="#474747" textLength="152.70" lengthAdjust="spacingAndGlyphs" stroke="#474747" stroke-width="0.1">various identifiers they looked for in deciding who to stop.</text>
<circle cx="548.30" cy="731.30" r="0.45" fill="#777" />
<text x="554.70" y="754.30" font-size="5.9" fill="#474747" textLength="147.00" lengthAdjust="spacingAndGlyphs" stroke="#474747" stroke-width="0.1">Some people who were wanded indicated that they had</text>
<text x="554.70" y="763.00" font-size="5.9" fill="#474747" textLength="115.80" lengthAdjust="spacingAndGlyphs" stroke="#474747" stroke-width="0.1">been stopped, wanded and searched before.</text>
<circle cx="548.30" cy="753.90" r="0.45" fill="#777" />
<text x="554.70" y="776.90" font-size="5.9" fill="#474747" textLength="150.10" lengthAdjust="spacingAndGlyphs" stroke="#474747" stroke-width="0.1">Most people stopped did not object and most voluntarily</text>
<text x="554.70" y="785.70" font-size="5.9" fill="#474747" textLength="149.60" lengthAdjust="spacingAndGlyphs" stroke="#474747" stroke-width="0.1">produced identification for street check recording and/or</text>
<text x="554.70" y="794.30" font-size="5.9" fill="#474747" textLength="113.30" lengthAdjust="spacingAndGlyphs" stroke="#474747" stroke-width="0.1">volunteered other information when asked.</text>
<circle cx="548.30" cy="776.50" r="0.45" fill="#777" />
<text x="554.70" y="808.60" font-size="5.9" fill="#474747" textLength="152.20" lengthAdjust="spacingAndGlyphs" stroke="#474747" stroke-width="0.1">People wanded who indicated that they were homeless or</text>
<text x="554.70" y="817.40" font-size="5.9" fill="#474747" textLength="157.30" lengthAdjust="spacingAndGlyphs" stroke="#474747" stroke-width="0.1">in need of other services, were generally offered referrals to</text>
<text x="554.70" y="826.00" font-size="5.9" fill="#474747" textLength="126.70" lengthAdjust="spacingAndGlyphs" stroke="#474747" stroke-width="0.1">a homeless centre or other appropriate services.</text>
<circle cx="548.30" cy="808.20" r="0.45" fill="#777" />
<text x="554.70" y="839.70" font-size="5.9" fill="#474747" textLength="150.10" lengthAdjust="spacingAndGlyphs" stroke="#474747" stroke-width="0.1">The wanding process seems straight forward and easy to</text>
<text x="554.70" y="848.50" font-size="5.9" fill="#474747" textLength="150.60" lengthAdjust="spacingAndGlyphs" stroke="#474747" stroke-width="0.1">apply, and does not require physical contact. Wands were</text>
<text x="554.70" y="857.20" font-size="5.9" fill="#474747" textLength="155.80" lengthAdjust="spacingAndGlyphs" stroke="#474747" stroke-width="0.1">also used inside people’s bags, and when activated subjects</text>
<text x="554.70" y="866.00" font-size="5.9" fill="#474747" textLength="128.50" lengthAdjust="spacingAndGlyphs" stroke="#474747" stroke-width="0.1">were asked to empty their bag for a visual check.</text>
<circle cx="548.30" cy="839.30" r="0.45" fill="#777" />
<text x="375.40" y="902.50" font-size="9.8" font-weight="700" fill="#262626" textLength="112.00" lengthAdjust="spacingAndGlyphs">Next stages of the project</text>
<rect x="363.20" y="930.30" width="350.20" height="16.40" fill="#8a8a8a" />
<circle cx="405.60" cy="938.20" r="17.30" fill="#8a8a8a" />
<circle cx="405.60" cy="938.20" r="13.40" fill="#c63432" />
<text x="405.40" y="943.30" font-size="14" font-weight="700" fill="#fff" text-anchor="middle" textLength="15.20" lengthAdjust="spacingAndGlyphs">01</text>
<text x="405.60" y="968.20" font-size="5.9" fill="#474747" text-anchor="middle" textLength="29.50" lengthAdjust="spacingAndGlyphs" stroke="#474747" stroke-width="0.1">Finalise the</text>
<text x="405.60" y="976.10" font-size="5.9" fill="#474747" text-anchor="middle" textLength="60.60" lengthAdjust="spacingAndGlyphs" stroke="#474747" stroke-width="0.1">community survey and</text>
<text x="405.60" y="984.00" font-size="5.9" fill="#474747" text-anchor="middle" textLength="51.50" lengthAdjust="spacingAndGlyphs" stroke="#474747" stroke-width="0.1">preliminary findings.</text>
<circle cx="492.00" cy="938.20" r="17.30" fill="#8a8a8a" />
<circle cx="492.00" cy="938.20" r="13.40" fill="#c63432" />
<text x="491.80" y="943.30" font-size="14" font-weight="700" fill="#fff" text-anchor="middle" textLength="15.20" lengthAdjust="spacingAndGlyphs">02</text>
<text x="492.00" y="968.20" font-size="5.9" fill="#474747" text-anchor="middle" textLength="49.00" lengthAdjust="spacingAndGlyphs" stroke="#474747" stroke-width="0.1">Continued analysis</text>
<text x="492.00" y="976.10" font-size="5.9" fill="#474747" text-anchor="middle" textLength="43.50" lengthAdjust="spacingAndGlyphs" stroke="#474747" stroke-width="0.1">of QPRIME data.</text>
<circle cx="578.60" cy="938.20" r="17.30" fill="#8a8a8a" />
<circle cx="578.60" cy="938.20" r="13.40" fill="#c63432" />
<text x="578.40" y="943.30" font-size="14" font-weight="700" fill="#fff" text-anchor="middle" textLength="15.20" lengthAdjust="spacingAndGlyphs">03</text>
<text x="578.60" y="968.20" font-size="5.9" fill="#474747" text-anchor="middle" textLength="65.60" lengthAdjust="spacingAndGlyphs" stroke="#474747" stroke-width="0.1">Complete interviews and</text>
<text x="578.60" y="976.10" font-size="5.9" fill="#474747" text-anchor="middle" textLength="67.20" lengthAdjust="spacingAndGlyphs" stroke="#474747" stroke-width="0.1">focus groups and identify</text>
<text x="578.60" y="984.00" font-size="5.9" fill="#474747" text-anchor="middle" textLength="51.00" lengthAdjust="spacingAndGlyphs" stroke="#474747" stroke-width="0.1">preliminary themes.</text>
<circle cx="665.00" cy="938.20" r="17.30" fill="#8a8a8a" />
<circle cx="665.00" cy="938.20" r="13.40" fill="#c63432" />
<text x="664.80" y="943.30" font-size="14" font-weight="700" fill="#fff" text-anchor="middle" textLength="15.20" lengthAdjust="spacingAndGlyphs">04</text>
<text x="665.00" y="968.20" font-size="5.9" fill="#474747" text-anchor="middle" textLength="54.30" lengthAdjust="spacingAndGlyphs" stroke="#474747" stroke-width="0.1">Provide 3rd and final</text>
<text x="665.00" y="976.10" font-size="5.9" fill="#474747" text-anchor="middle" textLength="65.10" lengthAdjust="spacingAndGlyphs" stroke="#474747" stroke-width="0.1">infographic status report</text>
<text x="665.00" y="984.00" font-size="5.9" fill="#474747" text-anchor="middle" textLength="47.50" lengthAdjust="spacingAndGlyphs" stroke="#474747" stroke-width="0.1">by 30 June 2022.</text>
</svg>
</body></html>
